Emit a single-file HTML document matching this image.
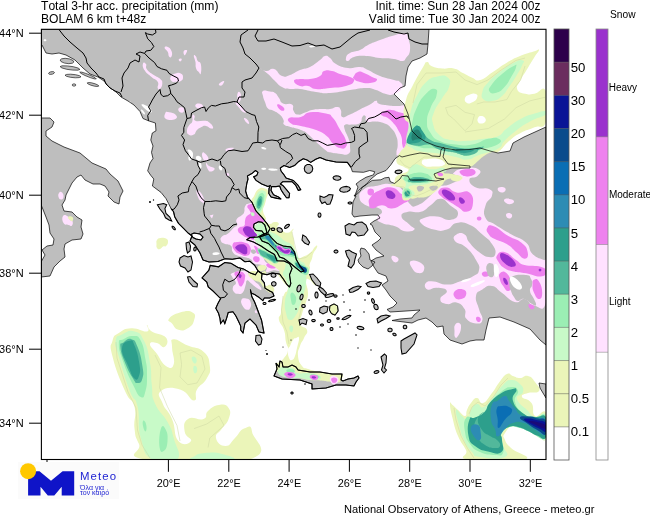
<!DOCTYPE html><html><head><meta charset="utf-8"><title>Meteo precipitation map</title>
<style>html,body{margin:0;padding:0;background:#fff}body{width:650px;height:516px;overflow:hidden}svg{display:block;will-change:transform}text{font-family:"Liberation Sans",sans-serif;fill:#000;font-kerning:none}</style></head><body>
<svg width="650" height="516" viewBox="0 0 650 516">
<rect width="650" height="516" fill="#fff"/>
<defs><clipPath id="mapclip"><rect x="41" y="29" width="505" height="431"/></clipPath></defs>
<g clip-path="url(#mapclip)">
<path d="M41,29 L429,29 L428,44 L427,54 L420,58 L412,61 L408,67 L406,76 L405,86 L400,88 L394,94 L398,98 L404,104 L408,114 L410,122 L412,131 L418,137 L426,142 L436,146 L444,148 L456,150 L470,149.5 L480,148 L490,151 L498,153 L510,151 L513,143 L524,137 L535,132 L546,127 L546,345 L540,340 L530,329 L514,322 L500,317 L489,318 L486,330 L484,340 L476,340 L470,341 L462,344 L450,340 L444,334 L443,326 L437,327 L432,322 L426,318 L418,320 L412,323 L404,322 L392,320.5 L400,319 L412,318 L414,315 L420,310 L406,311 L390,312 L387,309.5 L393,307 L397,303 L390,296 L386,290 L382,285 L388,281 L386,276 L378,273 L374,267 L371,261 L376,258 L384,256 L376,250 L372,245 L378,241 L381,238 L375,232 L372,225 L370,224 L374,221 L380,218 L378,215 L372,215 L360,216 L354,217 L352,214 L353,202 L356,196 L354,196 L355.5,194 L358,187 L356,184 L359.8,181 L366,177.3 L373.5,174.8 L374.7,171.7 L369.7,170.5 L363.5,172.3 L352.4,171.7 L351,167.4 L347.4,162.4 L336,162 L326,160 L320,157.5 L315.7,159.3 L310.7,162.4 L307,160 L303.3,158.7 L298.3,161.8 L294.6,165.5 L289.6,167.4 L284,165.5 L280.3,168 L281,171 L284,174.8 L286,178 L289,179 L293.3,180.4 L297.7,184.8 L300.8,189.7 L298.3,190.4 L295.8,185.4 L292,181.7 L286.5,181.7 L282.8,181.7 L280.3,184 L282.8,185.4 L286.5,189.7 L289.6,193.5 L289,197.8 L286.5,197.8 L283.4,193.5 L281,189.7 L279.7,186 L276,186.6 L271.6,186.6 L271,190.4 L273.5,194.7 L278.5,197 L281,199 L277,198.4 L271,197 L268.8,193.5 L269,188.5 L270.4,185.4 L268,186.6 L261.7,184 L256,180.4 L253.6,176.7 L256.7,175.5 L258,172.4 L255.5,170.5 L251.8,173.6 L247.4,176 L248,179 L246.8,183.5 L245.6,191 L247.4,197 L251.8,202 L256,211 L262,217.4 L267,223.6 L270,228.5 L268,232.5 L263,234.5 L258,237 L250,237.5 L246.7,239.7 L253.5,242 L261,246 L268.4,251 L274.6,254.6 L277,260.8 L284,261 L289.5,263.6 L292,268.6 L289.5,274.8 L290.8,283.5 L289.5,287 L287,284.7 L283.3,279 L279.6,274 L272,273 L267,274.8 L262,273.6 L258,271 L254.8,265.5 L249.8,261.2 L244.9,261.8 L239.9,258 L232.4,259.3 L225,258.7 L218,261.5 L209,262 L203,260 L200,253 L195,245 L190,241 L192,236 L188.4,233.3 L183.5,228.4 L178.5,223.4 L174.8,217 L173.5,211.6 L171,208.5 L168.6,203.6 L166,198.6 L161,192.4 L152.4,186 L153.8,179 L150.8,175.4 L147.7,170.8 L150,163 L153,158.5 L151.5,152.3 L153,146 L150.8,140 L152.3,133 L156,130.8 L155.4,123 L148.5,120.8 L143,118.5 L140,111.5 L134,105 L128,101 L121,97 L116,92 L109,87 L104,81 L98,77 L90,74 L83,68 L75,60 L66,55 L59,53 L52,54 L46,53 L42,45 L41,45Z" fill="#bebebe" stroke="none" stroke-width="0" />
<path d="M41,118 L50,118 L54,122 L52,127 L46,131 L46,136 L52,141 L64,147 L80,153 L92,163 L106,169 L110,174 L118,181 L123,191 L120,197 L119,204 L114,202 L108,196 L109,192 L105,186 L100,184 L93,184 L85,180 L81,175 L77,177 L72,183 L66,195 L65,200 L62,205 L64,211 L72,212 L77,217 L82,220 L81,227 L83,234 L81,239 L72,240 L65,244 L64,249 L65,257 L60,261 L54,267 L50,276 L41,277 L41,262 L45,255 L42,250 L47,246 L53,245 L54,239 L50,233 L49,225 L46,217 L42,207 L41,205Z" fill="#bebebe" stroke="none" stroke-width="0" />
<path d="M361,248 L365,249 L369,254 L370,260 L375,262 L372,266 L368,269 L363,267 L359,263 L358,260 L361,256 L360,251Z" fill="#bebebe" stroke="none" stroke-width="0" />
<path d="M210.2,265.4 L218.5,266.8 L224.8,262.5 L231,263.3 L238,267.5 L243.5,268.9 L250.4,273 L255.4,274.8 L258,271 L262,273.6 L261.5,279.2 L264.3,282.7 L265,288.2 L269.7,291 L272.6,292.4 L274,296 L269.7,298 L264.3,298 L262.9,300.7 L258.7,297.2 L254.6,294.5 L251.1,293 L250.4,289.6 L251.8,296.6 L254.6,302 L257.3,309 L259.4,314.6 L261.5,320 L264,333 L259,332 L256,325 L250,319 L245,323 L243,333 L240.7,330 L240.7,326 L238.6,321.5 L235.9,316 L233,311.8 L228.2,312.5 L226.9,317.3 L224.8,323.6 L223.4,320 L220.6,323.6 L220,318.7 L218.5,313.2 L215.8,308.3 L217.9,303.5 L220.6,298.6 L217.9,295.9 L213,291 L208.2,286.9 L206.8,282 L202,277.9 L208.9,270.2Z" fill="#bebebe" stroke="none" stroke-width="0" />
<path d="M276,363 L277,369 L274,376 L282,379 L300,380 L312,384 L312,389 L326,388 L336,385 L346,385 L354,386 L356,382 L359,378 L358,376 L354,378 L348,379 L343,381 L341,380 L342,374 L332,374 L320,372 L310,372 L298,370 L296,367 L292,365 L288,367 L283,367 L282,362 L280,361 L279,367Z" fill="#bebebe" stroke="none" stroke-width="0" />
<path d="M259.7,237 L268.4,234 L272,238.5 L277,243.4 L283.3,246 L290.8,247 L294.5,252 L296.3,259.6 L300,266 L304,271 L301,272 L296,268 L290,263 L284,258.5 L279.6,257 L277,252 L274.6,249.6 L268.4,243.4 L262,241Z" fill="#bebebe" stroke="none" stroke-width="0" />
<path d="M539,383 L546,384 L546,398 L543,393 L540,388Z" fill="#bebebe" stroke="none" stroke-width="0" />
<path d="M355.5,194.5 L360.4,188.5 L366,184.7 L371,179 L377,174 L386,170.5 L390.8,164.9 L395,158.7 L399.5,155.6 L402,157 L410,155 L420,153 L428,154 L432,156 L440,156.5 L441,150 L443,147.5 L445,148.5 L443,157 L448,164 L470,166 L470,168 L452,168 L444,170 L434,174 L436,178 L444,179 L436,181 L426,180 L410,180 L408,176 L402,175.5 L400,179 L394.6,183.5 L390.2,181.6 L389,177.3 L384.6,177.9 L380.9,179.8 L372.2,180.4 L368.5,182.9 L362.3,187.2 L359.8,191.6 L354.9,196Z" fill="#ffffff" stroke="none" stroke-width="0" />
<path d="M258.5,221.7 L254,224 L253.5,227.3 L256,230.4 L262,231 L264,234 L267,233 L266,229 L264.7,224.8 L262,222.3Z" fill="#ffffff" stroke="none" stroke-width="0" />
<path d="M191,234.5 L194,233 L200,234 L203,237 L201,240 L196,239 L193,237.5Z" fill="#ffffff" stroke="none" stroke-width="0" />
<path d="M346.0,58.0C346.5,55.9 346.3,55.1 350.0,53.0C353.7,50.9 355.2,52.1 360.0,50.0C364.8,47.9 362.7,47.7 368.0,45.0C373.3,42.3 373.6,42.4 380.0,40.0C386.4,37.6 385.6,37.9 392.0,36.0C398.4,34.1 399.7,32.5 404.0,33.0C408.3,33.5 406.4,33.5 408.0,38.0C409.6,42.5 410.5,44.7 410.0,50.0C409.5,55.3 408.1,55.1 406.0,58.0C403.9,60.9 405.2,60.7 402.0,61.0C398.8,61.3 399.9,59.8 394.0,59.0C388.1,58.2 387.5,58.8 380.0,58.0C372.5,57.2 372.9,56.3 366.0,56.0C359.1,55.7 358.8,55.7 354.0,57.0C349.2,58.3 350.1,60.7 348.0,61.0C345.9,61.3 345.5,60.1 346.0,58.0Z" fill="#ffe1ff" />
<path d="M259.0,67.0C258.5,66.2 262.0,70.5 266.0,71.0C270.0,71.5 269.7,67.7 274.0,69.0C278.3,70.3 277.7,74.4 282.0,76.0C286.3,77.6 285.2,76.6 290.0,75.0C294.8,73.4 294.7,72.1 300.0,70.0C305.3,67.9 304.7,69.7 310.0,67.0C315.3,64.3 316.0,62.9 320.0,60.0C324.0,57.1 322.3,56.5 325.0,56.0C327.7,55.5 327.1,55.9 330.0,58.0C332.9,60.1 331.2,61.3 336.0,64.0C340.8,66.7 341.6,67.2 348.0,68.0C354.4,68.8 354.7,66.5 360.0,67.0C365.3,67.5 362.7,67.6 368.0,70.0C373.3,72.4 373.1,73.3 380.0,76.0C386.9,78.7 388.7,78.4 394.0,80.0C399.3,81.6 397.9,79.9 400.0,82.0C402.1,84.1 403.6,84.8 402.0,88.0C400.4,91.2 398.3,92.4 394.0,94.0C389.7,95.6 390.8,95.1 386.0,94.0C381.2,92.9 381.3,91.6 376.0,90.0C370.7,88.4 372.9,88.0 366.0,88.0C359.1,88.0 359.6,88.7 350.0,90.0C340.4,91.3 339.1,92.5 330.0,93.0C320.9,93.5 324.0,93.1 316.0,92.0C308.0,90.9 306.9,89.8 300.0,89.0C293.1,88.2 294.8,89.5 290.0,89.0C285.2,88.5 286.3,89.4 282.0,87.0C277.7,84.6 277.7,83.5 274.0,80.0C270.3,76.5 272.0,77.5 268.0,74.0C264.0,70.5 259.5,67.8 259.0,67.0Z" fill="#ffe1ff" />
<path d="M294.0,81.0C294.0,79.1 295.7,79.5 300.0,79.0C304.3,78.5 304.7,79.8 310.0,79.0C315.3,78.2 316.3,78.1 320.0,76.0C323.7,73.9 320.8,72.3 324.0,71.0C327.2,69.7 327.7,70.2 332.0,71.0C336.3,71.8 335.2,72.4 340.0,74.0C344.8,75.6 346.3,75.1 350.0,77.0C353.7,78.9 355.1,78.6 354.0,81.0C352.9,83.4 352.4,84.1 346.0,86.0C339.6,87.9 338.0,87.2 330.0,88.0C322.0,88.8 321.9,89.5 316.0,89.0C310.1,88.5 312.3,86.8 308.0,86.0C303.7,85.2 303.7,87.3 300.0,86.0C296.3,84.7 294.0,82.9 294.0,81.0Z" fill="#ee82ee" />
<path d="M354.0,76.0C355.1,74.1 355.3,72.8 358.0,72.0C360.7,71.2 360.3,71.7 364.0,73.0C367.7,74.3 368.5,75.1 372.0,77.0C375.5,78.9 377.5,78.4 377.0,80.0C376.5,81.6 374.5,82.5 370.0,83.0C365.5,83.5 364.3,83.1 360.0,82.0C355.7,80.9 355.6,80.6 354.0,79.0C352.4,77.4 352.9,77.9 354.0,76.0Z" fill="#ee82ee" />
<path d="M263.0,91.0C264.9,89.8 266.8,91.0 270.0,91.5C273.2,92.0 272.6,91.3 275.0,93.0C277.4,94.7 276.9,95.2 279.0,98.0C281.1,100.8 279.5,101.7 283.0,103.5C286.5,105.3 289.2,102.7 292.0,104.6C294.8,106.5 291.9,108.1 293.5,110.8C295.1,113.5 294.7,114.2 298.0,114.6C301.3,115.0 302.1,113.5 305.8,112.3C309.5,111.1 307.9,110.9 312.0,110.0C316.1,109.1 316.2,109.3 321.0,109.0C325.8,108.7 325.7,109.5 330.0,109.0C334.3,108.5 334.1,106.7 337.0,107.0C339.9,107.3 339.4,107.3 340.8,110.0C342.2,112.7 339.8,115.8 342.3,117.0C344.8,118.2 345.1,116.7 350.0,114.6C354.9,112.5 355.5,111.7 360.8,109.0C366.1,106.3 365.9,106.8 370.0,104.6C374.1,102.4 373.6,101.0 376.0,100.8C378.4,100.6 375.7,102.6 379.0,103.8C382.3,105.0 383.5,104.8 388.5,105.4C393.5,106.0 394.0,106.0 397.7,106.0C401.4,106.0 400.6,105.4 402.3,105.4C404.0,105.4 402.3,103.8 404.0,106.0C405.7,108.2 406.9,109.7 408.5,113.8C410.1,117.9 409.6,117.8 410.0,121.5C410.4,125.2 410.3,124.0 410.0,127.7C409.7,131.4 409.8,132.1 409.0,135.4C408.2,138.7 408.0,137.2 407.0,140.0C406.0,142.8 406.7,143.1 405.4,146.0C404.1,148.9 404.4,148.3 402.3,150.8C400.2,153.3 399.2,155.0 397.7,155.4C396.2,155.8 396.5,155.2 396.5,152.3C396.5,149.4 397.8,149.1 397.7,144.6C397.6,140.1 397.7,139.7 396.0,135.4C394.3,131.1 394.3,131.6 391.5,128.5C388.7,125.4 389.5,125.7 385.4,123.8C381.3,121.9 380.9,122.1 376.0,121.5C371.1,120.9 369.8,123.0 367.0,121.5C364.2,120.0 366.7,117.2 365.4,116.0C364.1,114.8 363.7,115.1 362.3,117.0C360.9,118.9 362.9,121.0 360.0,123.0C357.1,125.0 355.4,124.2 351.5,124.6C347.6,125.0 347.2,123.4 345.4,124.6C343.6,125.8 343.8,125.3 344.6,129.0C345.4,132.7 347.1,134.0 348.5,138.5C349.9,143.0 350.0,141.9 350.0,146.0C350.0,150.1 351.4,151.7 348.5,153.8C345.6,155.9 343.9,154.2 339.0,153.8C334.1,153.4 333.5,153.2 330.0,152.3C326.5,151.4 328.9,152.5 326.0,150.4C323.1,148.3 323.9,149.0 319.0,144.6C314.1,140.2 312.0,137.7 307.7,134.0C303.4,130.3 305.7,132.3 302.7,130.8C299.7,129.3 299.8,129.5 296.5,128.5C293.2,127.5 293.7,128.0 290.4,127.0C287.1,126.0 285.8,126.5 284.0,124.6C282.2,122.7 284.7,122.7 283.5,120.0C282.3,117.3 282.3,117.1 279.6,114.6C276.9,112.1 276.6,112.4 273.5,110.8C270.4,109.2 270.3,110.8 268.0,108.5C265.7,106.2 266.3,105.3 265.0,102.0C263.7,98.7 263.5,98.9 263.0,96.0C262.5,93.1 261.1,92.2 263.0,91.0Z" fill="#ffe1ff" />
<path d="M289.0,118.0C291.5,116.2 295.2,118.5 300.8,117.0C306.4,115.5 303.3,113.2 310.0,112.3C316.7,111.4 319.9,112.0 326.0,113.5C332.1,115.0 329.3,113.7 333.0,118.0C336.7,122.3 336.6,123.7 340.0,129.6C343.4,135.5 344.3,135.4 345.8,140.0C347.3,144.6 347.3,144.9 345.8,147.0C344.3,149.1 343.4,148.9 340.0,148.0C336.6,147.1 336.7,146.9 333.0,143.5C329.3,140.1 330.9,139.1 326.0,135.4C321.1,131.7 321.3,132.1 314.6,129.6C307.9,127.1 307.0,127.5 300.8,126.0C294.6,124.5 294.6,125.9 291.5,123.8C288.4,121.7 286.5,119.8 289.0,118.0Z" fill="#ee82ee" />
<path d="M277.3,104.6C277.9,103.8 279.2,104.4 281.0,105.4C282.8,106.4 283.7,107.1 284.2,108.5C284.7,109.9 284.1,110.8 282.7,110.8C281.3,110.8 280.2,110.2 278.8,108.5C277.4,106.8 276.7,105.4 277.3,104.6Z" fill="#ee82ee" />
<path d="M380.8,113.8C381.4,112.4 382.5,111.8 385.4,110.8C388.3,109.8 387.9,109.6 391.5,110.0C395.1,110.4 395.3,111.1 399.0,112.3C402.7,113.5 403.1,112.5 405.4,114.6C407.7,116.7 406.7,115.7 407.7,120.0C408.7,124.3 408.8,126.3 409.0,130.8C409.2,135.3 409.3,133.7 408.5,137.0C407.7,140.3 407.3,140.1 406.0,143.0C404.7,145.9 404.8,147.3 403.8,147.7C402.8,148.1 402.9,147.5 402.3,144.6C401.7,141.7 402.5,140.7 401.5,137.0C400.5,133.3 400.3,134.1 398.5,130.8C396.7,127.5 397.3,127.9 394.6,124.6C391.9,121.3 391.6,120.8 388.5,118.5C385.4,116.2 385.1,117.3 383.0,116.0C380.9,114.7 380.2,115.2 380.8,113.8Z" fill="#ee82ee" />
<path d="M359.4,197.2C359.0,192.9 360.0,192.0 364.3,189.0C368.6,186.0 368.3,187.3 375.6,186.0C382.9,184.7 384.0,182.6 391.8,184.3C399.6,186.0 400.0,187.2 404.7,192.4C409.4,197.6 406.1,200.3 409.6,203.7C413.1,207.1 412.1,207.5 417.7,205.3C423.3,203.1 425.5,200.3 430.6,195.6C435.7,190.9 431.8,190.5 437.0,187.5C442.2,184.5 443.9,186.9 450.0,184.3C456.1,181.7 458.8,180.8 459.7,177.8C460.6,174.8 451.6,175.6 453.3,173.0C455.0,170.4 459.3,168.9 466.2,168.0C473.1,167.1 476.0,167.6 479.0,169.7C482.0,171.8 480.1,173.4 477.5,176.0C474.9,178.6 469.8,176.3 469.4,179.4C469.0,182.5 470.8,184.9 476.0,187.5C481.2,190.1 484.7,186.8 489.0,189.0C493.3,191.2 492.9,191.3 492.0,195.6C491.1,199.9 487.3,199.3 485.6,205.3C483.9,211.3 483.0,212.8 485.6,218.0C488.2,223.2 488.4,220.3 495.3,224.7C502.2,229.1 503.3,229.7 511.5,234.4C519.7,239.1 520.4,237.3 526.0,242.5C531.6,247.7 527.7,249.2 532.5,253.9C537.3,258.6 540.4,258.4 544.0,260.0C547.6,261.6 545.5,248.8 546.0,260.0C546.5,271.2 549.2,289.8 546.0,302.0C542.8,314.2 539.7,306.4 534.0,305.6C528.3,304.8 529.6,300.0 524.5,299.0C519.4,298.0 520.9,303.7 514.8,302.0C508.7,300.3 507.9,297.0 501.8,292.7C495.7,288.4 497.2,286.9 492.0,286.0C486.8,285.1 486.7,286.7 482.4,289.4C478.1,292.1 476.9,290.8 476.0,296.0C475.1,301.2 477.3,302.6 479.0,309.0C480.7,315.4 483.2,316.2 482.4,320.0C481.6,323.8 480.3,323.8 476.0,323.4C471.7,323.0 469.2,322.4 466.2,318.6C463.2,314.8 467.2,313.3 464.6,309.0C462.0,304.7 461.2,303.7 456.5,302.4C451.8,301.1 451.1,304.9 446.8,304.0C442.5,303.1 440.3,302.5 440.3,299.0C440.3,295.5 447.7,294.0 446.8,291.0C445.9,288.0 442.2,288.2 437.0,287.8C431.8,287.4 430.4,290.7 427.4,289.4C424.4,288.1 424.1,285.1 425.8,283.0C427.5,280.9 428.3,281.0 433.9,281.4C439.5,281.8 439.9,284.6 446.8,284.6C453.7,284.6 452.8,283.6 459.7,281.4C466.6,279.2 467.6,279.5 472.7,276.5C477.8,273.5 478.1,274.4 479.0,270.0C479.9,265.6 479.4,266.0 476.0,260.0C472.6,254.0 471.8,252.5 466.2,247.4C460.6,242.3 457.5,244.4 454.9,240.9C452.3,237.4 453.9,236.1 456.5,234.4C459.1,232.7 461.2,232.2 464.6,234.4C468.0,236.6 465.6,237.8 469.4,242.5C473.2,247.2 473.8,248.1 479.0,252.0C484.2,255.9 484.6,256.5 488.9,257.0C493.2,257.5 494.5,257.4 495.3,253.9C496.1,250.4 495.4,249.2 492.0,244.0C488.6,238.8 488.4,239.5 482.4,234.4C476.4,229.3 476.3,227.7 469.4,224.7C462.5,221.7 462.5,221.7 456.5,223.0C450.5,224.3 452.8,227.8 446.8,229.6C440.8,231.4 440.8,231.4 433.9,229.6C427.0,227.8 423.5,226.1 420.9,223.0C418.3,219.9 419.7,219.7 424.0,218.0C428.3,216.3 430.1,216.1 437.0,216.6C443.9,217.1 444.4,220.8 450.0,219.9C455.6,219.0 458.0,217.3 458.0,213.4C458.0,209.5 454.7,209.2 450.0,205.3C445.3,201.4 445.5,198.8 440.3,198.8C435.1,198.8 435.8,201.8 430.6,205.3C425.4,208.8 426.9,210.1 420.9,211.8C414.9,213.5 413.2,210.5 408.0,211.8C402.8,213.1 401.1,213.2 401.5,216.6C401.9,220.0 406.2,221.2 409.6,224.7C413.0,228.2 415.7,227.9 414.4,229.6C413.1,231.3 409.9,232.1 404.7,231.2C399.5,230.3 401.1,228.5 395.0,226.3C388.9,224.1 386.7,225.2 382.0,223.0C377.3,220.8 377.2,221.0 377.2,218.0C377.2,215.0 382.4,214.7 382.0,211.8C381.6,208.9 379.9,208.7 375.6,207.0C371.3,205.3 370.2,207.9 365.9,205.3C361.6,202.7 359.8,201.5 359.4,197.2Z" fill="#ffe1ff" />
<path d="M411.0,261.0C413.4,259.7 417.5,260.6 421.0,263.0C424.5,265.4 424.8,267.3 424.0,270.0C423.2,272.7 421.2,273.5 418.0,273.0C414.8,272.5 413.9,271.2 412.0,268.0C410.1,264.8 408.6,262.3 411.0,261.0Z" fill="#ffe1ff" />
<path d="M392.0,256.0C393.3,255.2 396.7,256.4 398.0,258.0C399.3,259.6 398.3,261.2 397.0,262.0C395.7,262.8 394.3,262.6 393.0,261.0C391.7,259.4 390.7,256.8 392.0,256.0Z" fill="#ffe1ff" />
<path d="M498.6,187.5C500.2,186.6 503.6,186.8 505.0,188.0C506.4,189.2 505.6,191.1 504.0,192.0C502.4,192.9 500.4,192.7 499.0,191.5C497.6,190.3 497.0,188.4 498.6,187.5Z" fill="#ffe1ff" />
<path d="M505.0,199.0C506.9,198.2 511.1,198.7 513.0,200.0C514.9,201.3 513.9,202.9 512.0,203.7C510.1,204.5 507.9,204.3 506.0,203.0C504.1,201.7 503.1,199.8 505.0,199.0Z" fill="#ffe1ff" />
<path d="M506.7,213.4C507.9,212.5 510.4,212.8 511.5,214.0C512.6,215.2 512.2,217.1 511.0,218.0C509.8,218.9 508.1,218.7 507.0,217.5C505.9,216.3 505.5,214.3 506.7,213.4Z" fill="#ffe1ff" />
<path d="M370.7,197.0C373.3,193.5 373.2,193.2 378.8,190.7C384.4,188.2 385.7,186.6 391.8,187.5C397.9,188.4 396.8,191.0 401.5,194.0C406.2,197.0 409.2,196.2 409.6,198.8C410.0,201.4 407.7,201.1 403.0,203.7C398.3,206.3 397.4,208.1 391.8,208.5C386.2,208.9 387.2,205.3 382.0,205.3C376.8,205.3 375.9,208.9 372.4,208.5C368.9,208.1 369.5,206.8 369.0,203.7C368.5,200.6 368.1,200.5 370.7,197.0Z" fill="#ee82ee" />
<path d="M367.5,192.0C367.5,190.4 367.7,189.8 369.0,189.0C370.3,188.2 371.2,188.2 372.5,189.0C373.8,189.8 374.0,190.4 374.0,192.0C374.0,193.6 373.8,194.2 372.5,195.0C371.2,195.8 370.3,195.8 369.0,195.0C367.7,194.2 367.5,193.6 367.5,192.0Z" fill="#ee82ee" />
<path d="M438.7,190.7C440.0,188.2 442.1,187.0 446.8,187.5C451.5,188.0 450.5,191.1 456.5,192.4C462.5,193.7 465.1,189.0 469.4,192.4C473.7,195.8 473.6,200.1 472.7,205.3C471.8,210.5 470.1,211.3 466.2,211.8C462.3,212.3 462.3,209.6 458.0,207.0C453.7,204.4 454.3,204.7 450.0,202.0C445.7,199.3 445.0,200.0 442.0,197.0C439.0,194.0 437.4,193.2 438.7,190.7Z" fill="#ee82ee" />
<path d="M461.4,171.3C463.6,169.6 469.3,168.8 472.7,169.7C476.1,170.6 476.5,172.9 474.3,174.6C472.1,176.3 468.0,176.9 464.6,176.0C461.2,175.1 459.2,173.0 461.4,171.3Z" fill="#ee82ee" />
<path d="M487.2,228.0C488.5,225.8 488.1,224.2 493.7,226.3C499.3,228.4 501.0,231.7 508.3,236.0C515.6,240.3 516.0,238.2 521.2,242.5C526.4,246.8 526.8,247.9 527.7,252.2C528.6,256.5 527.5,258.7 524.5,258.7C521.5,258.7 521.1,256.1 516.4,252.2C511.7,248.3 512.3,247.4 506.7,244.0C501.1,240.6 500.0,241.9 495.3,239.3C490.6,236.7 491.1,237.4 488.9,234.4C486.7,231.4 485.9,230.2 487.2,228.0Z" fill="#ee82ee" />
<path d="M497.0,255.5C498.7,252.9 499.8,250.9 505.0,252.2C510.2,253.5 511.2,256.9 516.4,260.3C521.6,263.7 518.0,263.3 524.5,265.0C531.0,266.7 535.0,265.0 540.6,266.8C546.2,268.6 545.5,269.1 545.5,271.7C545.5,274.3 545.8,276.1 540.6,276.5C535.4,276.9 532.9,274.6 526.0,273.3C519.1,272.0 520.4,273.0 514.8,271.7C509.2,270.4 509.3,271.0 505.0,268.4C500.7,265.8 500.7,265.4 498.6,262.0C496.5,258.6 495.3,258.1 497.0,255.5Z" fill="#ee82ee" />
<path d="M500.0,273.3C501.8,271.6 503.6,270.3 506.7,273.3C509.8,276.3 511.1,279.9 511.5,284.6C511.9,289.3 510.5,290.6 508.3,291.0C506.1,291.4 505.6,289.2 503.4,286.2C501.2,283.2 500.9,283.1 500.0,279.7C499.1,276.3 498.2,275.0 500.0,273.3Z" fill="#ee82ee" />
<path d="M534.0,279.7C535.7,278.8 536.8,277.9 539.0,281.4C541.2,284.9 542.2,288.0 542.2,292.7C542.2,297.4 541.2,299.0 539.0,299.0C536.8,299.0 535.7,296.5 534.0,292.7C532.3,288.9 532.5,288.1 532.5,284.6C532.5,281.1 532.3,280.6 534.0,279.7Z" fill="#ee82ee" />
<path d="M454.9,291.0C457.1,288.8 460.0,288.5 463.0,289.4C466.0,290.3 466.6,291.7 466.2,294.3C465.8,296.9 464.4,298.1 461.4,299.0C458.4,299.9 456.6,299.6 454.9,297.5C453.2,295.4 452.7,293.2 454.9,291.0Z" fill="#ee82ee" />
<path d="M482.4,272.5C483.5,271.4 484.8,271.3 487.0,271.7C489.2,272.1 490.5,272.7 490.5,274.0C490.5,275.3 489.0,276.0 487.0,276.5C485.0,277.0 484.2,277.1 483.0,276.0C481.8,274.9 481.3,273.6 482.4,272.5Z" fill="#ee82ee" />
<path d="M476.0,318.0C476.3,316.7 477.7,316.5 479.0,317.0C480.3,317.5 481.1,318.7 480.8,320.0C480.5,321.3 479.3,322.5 478.0,322.0C476.7,321.5 475.7,319.3 476.0,318.0Z" fill="#ee82ee" />
<path d="M477.5,217.0C478.4,216.2 479.9,216.2 480.8,217.0C481.7,217.8 481.7,219.2 480.8,220.0C479.9,220.8 478.4,220.8 477.5,220.0C476.6,219.2 476.6,217.8 477.5,217.0Z" fill="#ee82ee" />
<path d="M529.0,304.0C530.2,303.5 532.9,304.7 534.0,306.0C535.1,307.3 534.2,308.5 533.0,309.0C531.8,309.5 530.6,309.3 529.5,308.0C528.4,306.7 527.8,304.5 529.0,304.0Z" fill="#ee82ee" />
<path d="M387.0,190.7C388.9,189.8 391.3,190.7 393.4,192.4C395.5,194.1 395.9,195.5 395.0,197.2C394.1,198.9 392.3,199.2 390.0,198.8C387.7,198.4 387.1,197.8 386.3,195.6C385.5,193.4 385.1,191.6 387.0,190.7Z" fill="#9a32cd" />
<path d="M442.0,190.7C442.9,189.0 445.0,189.0 448.4,190.7C451.8,192.4 454.0,194.6 454.9,197.2C455.8,199.8 454.3,200.5 451.7,200.5C449.1,200.5 447.8,199.8 445.2,197.2C442.6,194.6 441.1,192.4 442.0,190.7Z" fill="#9a32cd" />
<path d="M459.7,197.2C461.0,196.8 463.7,198.8 464.6,200.5C465.5,202.2 464.3,203.3 463.0,203.7C461.7,204.1 460.6,203.7 459.7,202.0C458.8,200.3 458.4,197.6 459.7,197.2Z" fill="#9a32cd" />
<path d="M500.0,255.5C500.0,252.9 501.1,252.2 505.0,253.9C508.9,255.6 512.7,258.6 514.8,262.0C516.9,265.4 515.6,266.4 513.0,266.8C510.4,267.2 508.5,266.6 505.0,263.6C501.5,260.6 500.0,258.1 500.0,255.5Z" fill="#9a32cd" />
<path d="M503.4,278.0C504.0,277.1 505.6,277.9 506.7,279.7C507.8,281.5 508.3,283.7 507.7,284.6C507.1,285.5 505.5,284.8 504.4,283.0C503.3,281.2 502.8,278.9 503.4,278.0Z" fill="#9a32cd" />
<path d="M539.0,269.0C539.5,268.5 540.5,268.5 541.0,269.0C541.5,269.5 541.5,270.5 541.0,271.0C540.5,271.5 539.5,271.5 539.0,271.0C538.5,270.5 538.5,269.5 539.0,269.0Z" fill="#9a32cd" />
<path d="M494.4,265.0C495.3,262.8 497.0,264.1 498.0,266.8C499.0,269.5 498.9,272.8 498.0,275.0C497.1,277.2 495.7,277.7 494.7,275.0C493.7,272.3 493.5,267.2 494.4,265.0Z" fill="#ffffff" />
<path d="M510.0,278.0C510.4,275.7 513.2,276.4 516.4,279.0C519.6,281.6 522.4,285.5 522.0,287.8C521.6,290.1 518.0,290.4 514.8,287.8C511.6,285.2 509.6,280.3 510.0,278.0Z" fill="#ffffff" />
<path d="M472.0,284.6C474.4,282.9 479.4,281.0 482.4,280.4C485.4,279.8 485.8,280.6 483.4,282.3C481.0,284.0 476.3,286.3 473.3,286.9C470.3,287.5 469.6,286.3 472.0,284.6Z" fill="#ffffff" />
<path d="M462.3,280.4C464.0,279.4 467.3,278.5 469.4,278.4C471.5,278.3 471.7,279.0 470.0,280.0C468.3,281.0 465.1,282.2 463.0,282.3C460.9,282.4 460.6,281.4 462.3,280.4Z" fill="#ffffff" />
<path d="M406.0,100.0C408.3,91.7 408.1,94.5 412.5,86.0C416.9,77.5 418.6,74.4 422.5,68.0C426.4,61.6 424.5,62.5 427.0,62.0C429.5,61.5 427.7,64.5 431.8,66.2C435.9,67.9 436.4,67.9 442.2,68.5C448.0,69.1 448.2,67.3 453.7,68.5C459.2,69.7 458.0,70.5 462.9,73.0C467.8,75.5 467.6,75.8 472.2,77.7C476.8,79.6 474.7,81.5 480.2,80.0C485.7,78.5 485.8,76.5 492.9,71.9C500.0,67.3 499.4,67.0 506.8,62.7C514.2,58.4 513.2,58.9 520.6,55.8C528.0,52.7 529.6,52.7 534.5,51.2C539.4,49.7 539.0,48.5 539.0,50.0C539.0,51.5 537.6,52.0 534.5,56.9C531.4,61.8 531.2,62.3 527.5,68.5C523.8,74.7 523.3,74.5 520.6,80.0C517.9,85.5 516.0,85.5 517.2,89.2C518.4,92.9 520.6,92.6 525.2,93.8C529.8,95.0 529.0,94.4 534.5,93.8C540.0,93.2 542.9,84.1 546.0,91.5C549.1,98.9 549.1,112.0 546.0,121.5C542.9,131.0 541.3,124.2 534.5,127.3C527.7,130.4 527.4,129.3 520.6,133.0C513.8,136.7 514.8,136.1 509.0,141.0C503.2,145.9 503.2,148.6 498.7,151.5C494.2,154.4 495.9,150.8 492.0,152.0C488.1,153.2 487.7,153.6 484.0,156.0C480.3,158.4 481.7,158.1 478.0,161.0C474.3,163.9 474.8,165.1 470.0,167.0C465.2,168.9 465.9,167.5 460.0,168.0C454.1,168.5 452.3,167.7 448.0,169.0C443.7,170.3 442.9,171.7 444.0,173.0C445.1,174.3 447.2,172.9 452.0,174.0C456.8,175.1 460.4,175.4 462.0,177.0C463.6,178.6 461.7,179.5 458.0,180.0C454.3,180.5 452.8,177.1 448.0,179.0C443.2,180.9 443.7,183.8 440.0,187.0C436.3,190.2 437.2,188.9 434.0,191.0C430.8,193.1 431.7,194.5 428.0,195.0C424.3,195.5 423.2,192.2 420.0,193.0C416.8,193.8 418.9,196.9 416.0,198.0C413.1,199.1 412.2,199.4 409.0,197.0C405.8,194.6 406.9,191.7 404.0,189.0C401.1,186.3 401.7,188.1 398.0,187.0C394.3,185.9 391.1,186.1 390.0,185.0C388.9,183.9 392.1,185.4 394.0,183.0C395.9,180.6 393.3,179.2 397.0,176.0C400.7,172.8 406.1,173.4 408.0,171.0C409.9,168.6 406.9,169.1 404.0,167.0C401.1,164.9 398.6,165.9 397.0,163.0C395.4,160.1 397.0,159.1 398.0,156.0C399.0,152.9 398.1,155.2 400.6,151.5C403.1,147.8 405.0,148.8 407.5,142.0C410.0,135.2 410.9,132.7 410.0,126.0C409.1,119.3 405.1,123.9 404.0,117.0C402.9,110.1 403.7,108.3 406.0,100.0Z" fill="#ebf5b9" />
<path d="M422.0,161.0C422.8,159.1 423.7,159.5 428.0,159.0C432.3,158.5 433.7,158.2 438.0,159.0C442.3,159.8 442.7,160.3 444.0,162.0C445.3,163.7 445.7,164.3 443.0,165.5C440.3,166.7 438.8,166.4 434.0,166.5C429.2,166.6 428.2,167.5 425.0,166.0C421.8,164.5 421.2,162.9 422.0,161.0Z" fill="#ffffff" />
<path d="M465.0,98.0C465.8,95.7 467.1,95.6 470.0,94.5C472.9,93.4 474.1,93.1 476.0,94.0C477.9,94.9 477.8,95.9 477.0,98.0C476.2,100.1 475.7,100.7 473.0,102.0C470.3,103.3 469.1,104.1 467.0,103.0C464.9,101.9 464.2,100.3 465.0,98.0Z" fill="#ffffff" />
<path d="M478.0,118.0C478.8,116.4 479.1,116.0 481.0,116.0C482.9,116.0 483.9,116.4 485.0,118.0C486.1,119.6 486.1,120.5 485.0,122.0C483.9,123.5 482.9,123.5 481.0,123.5C479.1,123.5 478.8,123.5 478.0,122.0C477.2,120.5 477.2,119.6 478.0,118.0Z" fill="#ffffff" />
<path d="M448.0,77.7C444.9,74.9 443.4,75.3 437.5,76.5C431.6,77.7 431.5,77.1 426.0,82.3C420.5,87.5 420.8,88.6 416.8,96.0C412.8,103.4 413.2,102.0 411.0,110.0C408.8,118.0 409.9,117.5 408.7,126.0C407.5,134.5 405.5,136.1 406.4,142.0C407.3,147.9 408.0,145.5 412.0,148.0C416.0,150.5 414.0,150.0 421.4,151.5C428.8,153.0 430.6,152.3 439.8,153.8C449.0,155.3 448.6,155.5 456.0,157.0C463.4,158.5 461.4,160.1 467.5,159.6C473.6,159.1 471.0,157.8 479.0,155.0C487.0,152.2 490.7,152.7 497.5,149.0C504.3,145.3 499.6,145.9 504.5,141.0C509.4,136.1 509.2,136.0 516.0,130.8C522.8,125.6 522.0,125.8 530.0,121.5C538.0,117.2 541.7,117.4 546.0,114.6C550.3,111.8 549.1,111.3 546.0,111.0C542.9,110.7 541.3,111.4 534.5,113.5C527.7,115.6 528.0,115.0 520.6,119.0C513.2,123.0 513.0,123.8 506.8,128.5C500.6,133.2 503.7,133.8 497.5,136.5C491.3,139.2 492.4,137.6 483.7,138.8C475.0,140.0 473.6,140.7 465.0,141.0C456.4,141.3 458.1,141.5 451.4,140.0C444.7,138.5 444.7,139.7 439.8,135.4C434.9,131.1 434.5,130.0 433.0,123.8C431.5,117.6 431.6,119.0 434.0,112.3C436.4,105.6 438.0,105.2 442.0,98.5C446.0,91.8 447.4,92.5 449.0,87.0C450.6,81.5 451.1,80.5 448.0,77.7Z" fill="#c8fac8" />
<path d="M435.0,89.0C432.2,88.4 430.9,88.8 426.0,93.8C421.1,98.8 420.5,99.7 416.8,107.7C413.1,115.7 413.9,115.2 412.0,123.8C410.1,132.4 407.9,133.8 409.8,140.0C411.7,146.2 411.6,144.6 419.0,147.0C426.4,149.4 427.6,147.5 437.5,149.0C447.4,150.5 448.0,150.8 456.0,152.7C464.0,154.6 461.4,156.6 467.5,156.0C473.6,155.4 471.0,153.4 479.0,150.4C487.0,147.4 492.2,147.7 497.5,144.6C502.8,141.5 501.2,140.3 498.7,138.8C496.2,137.3 495.4,137.3 488.3,138.8C481.2,140.3 480.6,143.1 472.0,144.6C463.4,146.1 464.6,145.6 456.0,144.6C447.4,143.6 446.6,144.1 439.8,141.0C433.0,137.9 434.0,138.2 430.6,133.0C427.2,127.8 427.0,128.2 427.0,121.5C427.0,114.8 428.1,114.5 430.6,107.7C433.1,100.9 435.2,101.0 436.4,96.0C437.6,91.0 437.8,89.6 435.0,89.0Z" fill="#9beeb4" />
<path d="M415.6,126.0C413.1,128.2 412.0,131.1 409.8,135.4C407.6,139.7 405.6,139.2 407.5,142.0C409.4,144.8 411.3,145.1 416.8,145.8C422.3,146.5 422.8,144.3 428.3,144.6C433.8,144.9 430.7,145.8 437.5,147.0C444.3,148.2 446.9,146.9 453.7,149.0C460.5,151.1 458.1,154.0 463.0,155.0C467.9,156.0 466.5,154.8 472.0,152.7C477.5,150.6 483.0,148.3 483.7,147.0C484.4,145.7 480.7,147.7 474.5,148.0C468.3,148.3 469.3,149.2 460.6,148.0C451.9,146.8 450.0,145.6 442.0,143.5C434.0,141.4 435.8,143.1 430.6,140.0C425.4,136.9 425.6,135.4 422.5,132.0C419.4,128.6 420.8,128.9 419.0,127.3C417.2,125.7 418.1,123.8 415.6,126.0Z" fill="#52b89b" />
<path d="M414.5,129.0C411.8,130.1 411.5,133.7 410.0,137.0C408.5,140.3 407.4,139.9 409.0,141.5C410.6,143.1 412.5,143.7 416.0,143.0C419.5,142.3 420.9,141.7 422.0,139.0C423.1,136.3 422.0,135.7 420.0,133.0C418.0,130.3 417.2,127.9 414.5,129.0Z" fill="#2d9f8c" />
<path d="M456.0,149.5C457.6,150.7 461.2,153.0 466.0,153.5C470.8,154.0 470.8,152.7 474.0,151.5C477.2,150.3 479.6,149.4 478.0,149.0C476.4,148.6 472.8,150.0 468.0,150.0C463.2,150.0 463.2,149.1 460.0,149.0C456.8,148.9 454.4,148.3 456.0,149.5Z" fill="#2d9f8c" />
<path d="M483.7,99.6C480.9,97.1 481.3,96.1 482.5,91.5C483.7,86.9 483.7,87.5 488.3,82.3C492.9,77.1 493.0,77.2 499.8,72.0C506.6,66.8 507.5,65.8 513.7,62.7C519.9,59.6 520.8,59.5 523.0,60.4C525.2,61.3 523.7,61.7 521.8,66.0C519.9,70.3 519.4,70.9 516.0,76.5C512.6,82.1 512.7,81.8 509.0,87.0C505.3,92.2 506.3,92.3 502.0,96.0C497.7,99.7 497.9,99.8 493.0,100.8C488.1,101.8 486.5,102.1 483.7,99.6Z" fill="#c8fac8" />
<path d="M489.5,91.5C488.3,89.3 488.5,89.3 491.8,84.6C495.1,79.9 496.2,79.0 502.0,74.0C507.8,69.0 510.0,67.8 513.7,66.0C517.4,64.2 516.6,64.5 516.0,67.3C515.4,70.1 514.5,71.2 511.4,76.5C508.3,81.8 508.5,82.7 504.5,87.0C500.5,91.3 500.4,91.5 496.4,92.7C492.4,93.9 490.7,93.7 489.5,91.5Z" fill="#9beeb4" />
<path d="M450.0,404.0C450.0,407.5 450.4,409.5 452.5,418.0C454.6,426.5 454.4,427.5 458.0,436.0C461.6,444.5 462.8,443.6 466.0,450.0C469.2,456.4 454.5,457.3 470.0,460.0C485.5,462.7 513.1,463.2 524.0,460.0C534.9,456.8 516.1,453.3 511.0,448.0C505.9,442.7 506.6,444.0 505.0,440.0C503.4,436.0 502.3,437.0 505.0,433.0C507.7,429.0 508.9,425.8 515.0,425.0C521.1,424.2 521.6,427.1 528.0,430.0C534.4,432.9 534.2,433.9 539.0,436.0C543.8,438.1 544.1,444.1 546.0,438.0C547.9,431.9 548.9,418.9 546.0,413.0C543.1,407.1 538.9,418.7 535.0,416.0C531.1,413.3 535.0,408.1 531.5,403.0C528.0,397.9 522.9,399.7 522.0,397.0C521.1,394.3 523.5,394.6 528.0,393.0C532.5,391.4 537.1,393.9 539.0,391.0C540.9,388.1 537.9,386.0 535.0,382.0C532.1,378.0 532.0,377.1 528.0,376.0C524.0,374.9 524.0,378.0 520.0,378.0C516.0,378.0 516.5,377.1 513.0,376.0C509.5,374.9 510.6,372.4 507.0,374.0C503.4,375.6 503.5,376.9 499.5,382.0C495.5,387.1 496.4,387.4 492.0,393.0C487.6,398.6 487.0,401.7 483.0,403.0C479.0,404.3 480.2,398.0 477.0,398.0C473.8,398.0 473.7,399.8 471.0,403.0C468.3,406.2 468.6,406.5 467.0,410.0C465.4,413.5 467.4,416.0 465.0,416.0C462.6,416.0 461.3,412.9 458.0,410.0C454.7,407.1 454.6,406.6 452.5,405.0C450.4,403.4 450.0,400.5 450.0,404.0Z" fill="#ebf5b9" />
<path d="M456.0,410.0C455.2,412.4 456.9,417.0 459.0,425.0C461.1,433.0 460.5,432.8 464.0,440.0C467.5,447.2 467.7,447.5 472.0,452.0C476.3,456.5 471.2,455.7 480.0,457.0C488.8,458.3 498.9,460.2 505.0,457.0C511.1,453.8 503.8,451.1 503.0,445.0C502.2,438.9 499.6,439.1 502.0,434.0C504.4,428.9 505.6,427.1 512.0,426.0C518.4,424.9 519.3,427.3 526.0,430.0C532.7,432.7 531.7,433.9 537.0,436.0C542.3,438.1 543.6,443.6 546.0,438.0C548.4,432.4 548.9,420.6 546.0,415.0C543.1,409.4 540.1,418.3 535.0,417.0C529.9,415.7 531.8,414.8 527.0,410.0C522.2,405.2 518.1,403.8 517.0,399.0C515.9,394.2 522.2,396.0 523.0,392.0C523.8,388.0 523.2,387.2 520.0,384.0C516.8,380.8 515.5,379.7 511.0,380.0C506.5,380.3 507.5,380.7 503.0,385.0C498.5,389.3 499.1,390.1 494.0,396.0C488.9,401.9 488.5,404.9 484.0,407.0C479.5,409.1 480.5,403.2 477.0,404.0C473.5,404.8 473.4,405.7 471.0,410.0C468.6,414.3 470.4,418.4 468.0,420.0C465.6,421.6 465.2,418.7 462.0,416.0C458.8,413.3 456.8,407.6 456.0,410.0Z" fill="#c8fac8" />
<path d="M466.0,418.0C463.3,421.8 463.9,425.1 465.0,432.0C466.1,438.9 466.0,438.7 470.0,444.0C474.0,449.3 473.3,449.1 480.0,452.0C486.7,454.9 488.9,454.7 495.0,455.0C501.1,455.3 501.1,457.0 503.0,453.0C504.9,449.0 502.3,445.3 502.0,440.0C501.7,434.7 499.9,436.5 502.0,433.0C504.1,429.5 505.2,428.3 510.0,427.0C514.8,425.7 514.7,426.7 520.0,428.0C525.3,429.3 523.1,429.3 530.0,432.0C536.9,434.7 541.7,442.1 546.0,438.0C550.3,433.9 548.9,422.1 546.0,416.5C543.1,410.9 540.9,417.7 535.0,417.0C529.1,416.3 529.3,418.0 524.0,414.0C518.7,410.0 516.6,408.1 515.0,402.0C513.4,395.9 519.1,395.0 518.0,391.0C516.9,387.0 515.5,386.7 511.0,387.0C506.5,387.3 506.6,387.8 501.0,392.0C495.4,396.2 494.4,397.3 490.0,402.6C485.6,407.9 488.5,408.0 484.5,412.0C480.5,416.0 479.9,416.0 475.0,417.6C470.1,419.2 468.7,414.2 466.0,418.0Z" fill="#9beeb4" />
<path d="M469.5,419.5C467.8,424.4 467.0,428.9 468.5,436.0C470.0,443.1 469.8,441.9 475.0,446.0C480.2,450.1 480.9,449.9 488.0,451.5C495.1,453.1 497.8,455.1 501.5,452.0C505.2,448.9 502.0,445.1 502.0,440.0C502.0,434.9 499.6,436.5 501.5,433.0C503.4,429.5 504.6,428.6 509.0,427.0C513.4,425.4 512.9,425.9 518.0,427.0C523.1,428.1 522.9,428.7 528.0,431.0C533.1,433.3 532.2,433.9 537.0,435.5C541.8,437.1 543.6,441.8 546.0,437.0C548.4,432.2 548.9,422.9 546.0,417.6C543.1,412.3 540.9,418.0 535.0,417.0C529.1,416.0 529.9,418.3 524.0,414.0C518.1,409.7 515.0,407.4 513.0,401.0C511.0,394.6 517.0,393.1 516.5,390.0C516.0,386.9 515.0,388.7 511.0,389.5C507.0,390.3 507.1,389.5 501.5,393.0C495.9,396.5 494.5,397.5 490.0,402.6C485.5,407.7 488.5,408.0 484.5,412.0C480.5,416.0 479.0,415.6 475.0,417.6C471.0,419.6 471.2,414.6 469.5,419.5Z" fill="#2d9f8c" />
<path d="M484.5,412.0C485.0,411.5 478.7,413.2 478.0,418.0C477.3,422.8 478.8,425.2 482.0,430.0C485.2,434.8 486.0,433.3 490.0,436.0C494.0,438.7 494.3,437.3 497.0,440.0C499.7,442.7 500.8,443.9 500.0,446.0C499.2,448.1 498.0,448.3 494.0,448.0C490.0,447.7 489.3,447.7 485.0,445.0C480.7,442.3 480.7,442.0 478.0,438.0C475.3,434.0 475.5,434.8 475.0,430.0C474.5,425.2 473.5,424.8 476.0,420.0C478.5,415.2 484.0,412.5 484.5,412.0Z" fill="#52b89b" />
<path d="M492.0,404.5C490.2,409.5 490.2,413.0 491.0,419.5C491.8,426.0 493.2,424.5 495.0,429.0C496.8,433.5 495.0,436.4 497.7,436.4C500.4,436.4 501.0,432.6 505.0,429.0C509.0,425.4 507.6,424.6 512.7,423.0C517.8,421.4 518.3,421.4 524.0,423.0C529.7,424.6 528.1,425.9 534.0,429.0C539.9,432.1 542.8,436.9 546.0,434.5C549.2,432.1 548.9,424.4 546.0,420.0C543.1,415.6 541.4,419.1 535.0,418.0C528.6,416.9 527.4,418.5 522.0,415.8C516.6,413.1 518.1,412.0 514.6,408.0C511.1,404.0 511.6,403.9 509.0,400.7C506.4,397.5 508.0,396.0 505.0,396.0C502.0,396.0 501.2,398.4 497.7,400.7C494.2,403.0 493.8,399.5 492.0,404.5Z" fill="#2d8cb4" />
<path d="M471.0,427.0C469.9,430.0 471.7,432.9 474.0,436.4C476.3,439.9 478.0,441.0 479.8,440.0C481.6,439.0 481.2,436.7 480.7,432.7C480.2,428.7 480.6,426.5 478.0,425.0C475.4,423.5 472.1,424.0 471.0,427.0Z" fill="#2d8cb4" />
<path d="M496.7,409.0C495.6,412.6 497.2,414.4 497.7,419.5C498.2,424.6 496.7,428.0 498.6,428.0C500.5,428.0 501.5,423.8 505.0,419.5C508.5,415.2 510.7,415.3 511.8,412.0C512.9,408.7 511.6,408.6 509.0,407.0C506.4,405.4 505.3,405.5 502.0,406.0C498.7,406.5 497.8,405.4 496.7,409.0Z" fill="#0a6eb4" />
<path d="M520.0,417.5C519.6,419.5 523.2,420.5 528.0,424.0C532.8,427.5 533.2,427.8 538.0,430.5C542.8,433.2 543.9,436.5 546.0,434.0C548.1,431.5 548.4,425.2 546.0,421.0C543.6,416.8 541.4,419.5 537.0,418.3C532.6,417.1 534.1,416.7 529.6,416.5C525.1,416.3 520.4,415.5 520.0,417.5Z" fill="#0a4b8c" />
<path d="M524.0,419.6C524.5,421.2 526.7,422.0 531.0,424.5C535.3,427.0 536.0,427.1 540.0,429.0C544.0,430.9 544.4,433.1 546.0,431.5C547.6,429.9 548.7,426.1 546.0,423.0C543.3,419.9 540.5,421.2 536.0,420.0C531.5,418.8 532.2,418.6 529.0,418.5C525.8,418.4 523.5,418.0 524.0,419.6Z" fill="#0a1496" />
<path d="M529.0,421.5C528.7,422.3 531.5,423.0 536.0,425.0C540.5,427.0 543.3,428.9 546.0,429.0C548.7,429.1 548.4,427.4 546.0,425.5C543.6,423.6 541.5,423.1 537.0,422.0C532.5,420.9 529.3,420.7 529.0,421.5Z" fill="#1a0a78" />
<path d="M112.5,340.8C110.8,347.1 109.2,343.1 112.5,356.5C115.8,369.9 119.1,377.6 125.0,391.0C130.9,404.4 132.0,396.7 134.5,406.7C137.0,416.7 133.3,418.7 134.5,428.6C135.7,438.5 135.2,435.6 139.0,444.0C142.8,452.4 119.7,455.7 148.6,460.0C177.5,464.3 219.9,467.5 247.5,460.0C275.1,452.5 252.9,440.2 252.0,431.8C251.1,423.4 248.5,426.9 244.0,428.6C239.5,430.3 239.9,433.4 235.0,438.0C230.1,442.6 230.6,446.0 225.5,446.0C220.4,446.0 216.9,442.6 216.0,438.0C215.1,433.4 218.6,433.7 222.0,428.6C225.4,423.5 226.8,424.5 228.6,419.0C230.4,413.5 231.2,411.7 228.6,408.0C226.0,404.3 224.5,404.2 219.0,405.0C213.5,405.8 212.1,407.3 208.0,411.0C203.9,414.7 208.8,416.9 203.5,419.0C198.2,421.1 193.0,415.6 188.0,419.0C183.0,422.4 183.9,425.9 184.7,431.8C185.5,437.7 192.7,438.5 191.0,441.0C189.3,443.5 183.5,446.9 178.4,441.0C173.3,435.1 176.2,429.0 172.0,419.0C167.8,409.0 165.6,411.0 162.7,403.5C159.8,396.0 156.4,394.8 161.0,391.0C165.6,387.2 171.2,386.9 180.0,389.4C188.8,391.9 189.5,400.4 194.0,400.4C198.5,400.4 193.6,395.3 197.0,389.4C200.4,383.5 203.3,384.7 206.7,378.4C210.1,372.1 210.7,373.0 209.8,365.9C208.9,358.8 209.4,357.2 203.5,351.8C197.6,346.4 195.7,348.9 187.8,345.5C179.9,342.1 177.9,338.8 173.7,339.2C169.5,339.6 172.0,340.3 172.0,347.0C172.0,353.7 175.3,359.3 173.7,364.3C172.1,369.3 170.5,368.8 165.9,365.9C161.3,363.0 160.7,359.1 156.5,353.3C152.3,347.5 149.9,346.7 150.0,344.0C150.1,341.3 153.2,342.2 157.0,343.0C160.8,343.8 161.9,348.4 164.3,347.0C166.7,345.6 169.2,341.8 165.9,337.6C162.6,333.4 156.8,334.8 151.8,331.4C146.8,328.0 148.3,325.0 147.0,325.0C145.7,325.0 151.2,330.5 147.0,331.4C142.8,332.3 138.9,327.8 131.4,328.2C123.9,328.6 123.8,329.6 118.8,333.0C113.8,336.4 114.2,334.5 112.5,340.8Z" fill="#ebf5b9" />
<path d="M169.0,318.8C171.1,315.9 173.7,314.2 180.0,312.5C186.3,310.8 188.8,310.4 192.5,312.5C196.2,314.6 195.3,316.2 194.0,320.4C192.7,324.6 192.0,325.7 187.8,328.2C183.6,330.7 182.6,331.1 178.4,329.8C174.2,328.5 174.5,326.4 172.0,323.5C169.5,320.6 166.9,321.7 169.0,318.8Z" fill="#ebf5b9" />
<path d="M115.7,340.8C114.8,346.7 115.0,343.1 118.8,356.5C122.6,369.9 124.8,377.6 129.8,391.0C134.8,404.4 134.7,394.2 137.6,406.7C140.5,419.2 136.7,423.8 140.8,438.0C144.9,452.2 143.4,454.1 153.0,460.0C162.6,465.9 171.4,465.9 176.9,460.0C182.4,454.1 176.2,448.1 173.7,438.0C171.2,427.9 172.5,431.2 167.5,422.0C162.5,412.8 159.2,413.4 155.0,403.5C150.8,393.6 153.1,395.6 151.8,384.7C150.5,373.8 152.1,374.4 150.0,362.7C147.9,351.0 148.1,349.1 144.0,340.8C139.9,332.5 140.4,333.1 134.5,331.4C128.6,329.7 127.0,332.0 122.0,334.5C117.0,337.0 116.6,334.9 115.7,340.8Z" fill="#c8fac8" />
<path d="M195.0,456.0C197.7,454.1 197.8,453.5 205.0,453.0C212.2,452.5 214.8,452.1 222.0,454.0C229.2,455.9 239.2,458.4 232.0,460.0C224.8,461.6 204.9,461.1 195.0,460.0C185.1,458.9 192.3,457.9 195.0,456.0Z" fill="#c8fac8" />
<path d="M118.8,344.0C118.8,350.3 119.7,351.8 123.5,362.7C127.3,373.6 128.4,375.6 133.0,384.7C137.6,393.8 137.5,395.3 140.8,397.0C144.1,398.7 143.8,396.9 145.5,391.0C147.2,385.1 147.0,383.4 147.0,375.0C147.0,366.6 147.2,368.7 145.5,359.6C143.8,350.5 144.1,347.1 140.8,340.8C137.5,334.5 137.6,336.4 133.0,336.0C128.4,335.6 127.3,337.1 123.5,339.2C119.7,341.3 118.8,337.7 118.8,344.0Z" fill="#9beeb4" />
<path d="M120.4,347.0C120.8,352.4 121.6,354.3 125.0,362.7C128.4,371.1 129.6,373.0 133.0,378.4C136.4,383.8 135.1,383.0 137.6,383.0C140.1,383.0 141.1,383.0 142.4,378.4C143.7,373.8 143.7,374.3 142.4,365.9C141.1,357.5 140.5,354.1 137.6,347.0C134.7,339.9 135.2,340.4 131.4,339.2C127.6,338.0 126.4,340.3 123.5,342.4C120.6,344.5 120.0,341.6 120.4,347.0Z" fill="#52b89b" />
<path d="M122.0,348.6C121.6,355.3 124.9,358.0 128.2,365.9C131.5,373.8 131.6,375.9 134.5,378.4C137.4,380.9 137.9,379.5 139.2,375.3C140.5,371.1 140.5,370.6 139.2,362.7C137.9,354.8 137.0,351.3 134.5,345.5C132.0,339.7 133.1,340.0 129.8,340.8C126.5,341.6 122.4,341.9 122.0,348.6Z" fill="#2d9f8c" />
<path d="M161.0,428.6C159.3,433.3 158.7,441.6 159.6,447.5C160.5,453.4 162.2,452.3 164.3,450.6C166.4,448.9 167.1,446.5 167.5,441.0C167.9,435.5 167.6,433.3 165.9,430.0C164.2,426.7 162.7,423.9 161.0,428.6Z" fill="#9beeb4" />
<path d="M143.0,421.0C143.7,419.9 145.2,421.3 146.0,424.0C146.8,426.7 146.7,429.9 146.0,431.0C145.3,432.1 144.3,430.7 143.5,428.0C142.7,425.3 142.3,422.1 143.0,421.0Z" fill="#9beeb4" />
<path d="M192.0,357.0C192.8,355.9 194.9,356.4 196.0,358.0C197.1,359.6 196.8,361.9 196.0,363.0C195.2,364.1 194.1,363.6 193.0,362.0C191.9,360.4 191.2,358.1 192.0,357.0Z" fill="#c8fac8" />
<path d="M194.0,366.0C194.9,365.2 196.5,366.1 197.0,368.0C197.5,369.9 196.9,372.2 196.0,373.0C195.1,373.8 194.0,372.9 193.5,371.0C193.0,369.1 193.1,366.8 194.0,366.0Z" fill="#c8fac8" />
<path d="M245.0,206.5C246.2,204.2 246.3,204.1 248.8,203.5C251.3,202.9 252.1,201.9 254.2,204.2C256.3,206.5 254.2,208.3 256.5,212.0C258.8,215.7 260.6,215.3 262.7,218.0C264.8,220.7 265.6,220.5 264.2,222.0C262.8,223.5 260.2,222.5 257.3,223.5C254.4,224.5 254.3,224.2 253.5,225.8C252.7,227.4 252.8,227.5 254.2,229.6C255.6,231.7 257.4,231.4 258.8,233.5C260.2,235.6 260.4,235.3 259.6,237.3C258.8,239.3 256.0,239.2 255.8,241.0C255.6,242.8 257.1,242.1 258.8,244.0C260.5,245.9 261.6,245.5 262.0,248.0C262.4,250.5 260.0,250.8 260.4,253.5C260.8,256.2 261.9,255.5 263.5,258.0C265.1,260.5 264.0,261.0 266.5,262.7C269.0,264.4 269.4,263.6 272.7,264.2C276.0,264.8 275.5,264.6 278.8,265.0C282.1,265.4 283.1,264.4 285.0,265.8C286.9,267.2 287.5,269.0 285.8,270.4C284.1,271.8 282.3,271.0 278.8,271.0C275.3,271.0 276.0,270.1 272.7,270.4C269.4,270.7 268.2,272.8 266.5,272.0C264.8,271.2 267.7,269.2 266.5,267.3C265.3,265.4 265.3,266.0 262.0,265.0C258.7,264.0 257.1,264.9 254.2,263.5C251.3,262.1 253.5,261.3 251.0,259.6C248.5,257.9 248.5,258.3 245.0,257.3C241.5,256.3 241.3,257.2 238.0,255.8C234.7,254.4 234.6,254.7 232.7,252.0C230.8,249.3 233.1,247.9 231.0,245.8C228.9,243.7 227.7,245.3 225.0,244.0C222.3,242.7 221.8,243.0 221.0,241.0C220.2,239.0 220.1,238.5 222.0,236.5C223.9,234.5 224.9,235.8 228.0,233.5C231.1,231.2 231.0,230.3 233.5,228.0C236.0,225.7 236.5,227.2 237.3,225.0C238.1,222.8 235.2,222.3 236.5,219.6C237.8,216.9 239.9,217.0 242.0,215.0C244.1,213.0 243.4,214.3 244.2,212.0C245.0,209.7 243.8,208.8 245.0,206.5Z" fill="#ffe1ff" />
<path d="M247.3,206.5C247.5,204.8 248.6,204.4 250.4,204.2C252.2,204.0 252.8,203.7 254.2,205.8C255.6,207.9 253.7,208.7 255.8,212.0C257.9,215.3 259.9,215.3 262.0,218.0C264.1,220.7 264.8,220.7 263.5,222.0C262.2,223.3 260.0,221.7 257.3,222.7C254.6,223.7 254.3,224.0 253.5,225.8C252.7,227.6 252.8,227.5 254.2,229.6C255.6,231.7 257.6,231.4 258.8,233.5C260.0,235.6 260.0,235.7 258.8,237.3C257.6,238.9 257.1,239.4 254.2,239.6C251.3,239.8 251.3,239.2 248.0,238.0C244.7,236.8 244.7,236.9 242.0,235.0C239.3,233.1 238.6,233.1 238.0,231.0C237.4,228.9 237.9,228.7 239.6,227.3C241.3,225.9 242.8,227.5 244.2,225.8C245.6,224.1 244.4,223.5 245.0,221.0C245.6,218.5 245.1,218.5 246.5,216.5C247.9,214.5 249.6,215.1 250.4,213.5C251.2,211.9 250.4,212.3 249.6,210.4C248.8,208.5 247.1,208.2 247.3,206.5Z" fill="#ee82ee" />
<path d="M232.7,244.2C233.5,241.8 234.7,242.4 238.0,242.0C241.3,241.6 241.9,241.7 245.0,242.7C248.1,243.7 248.2,243.3 249.6,245.8C251.0,248.3 251.2,249.3 250.4,252.0C249.6,254.7 249.2,255.2 246.5,255.8C243.8,256.4 243.5,255.5 240.4,254.2C237.3,252.9 237.1,253.7 235.0,251.0C232.9,248.3 231.9,246.6 232.7,244.2Z" fill="#ee82ee" />
<path d="M254.2,245.8C254.8,245.2 256.6,246.2 258.0,248.0C259.4,249.8 259.8,251.2 259.6,252.7C259.4,254.2 258.3,254.1 257.3,253.5C256.3,252.9 256.6,252.5 255.8,250.4C255.0,248.3 253.6,246.4 254.2,245.8Z" fill="#ee82ee" />
<path d="M253.5,257.3C254.3,256.1 255.7,256.1 257.3,256.5C258.9,256.9 259.4,257.3 259.6,258.8C259.8,260.3 259.4,261.4 258.0,262.0C256.6,262.6 255.4,262.3 254.2,261.0C253.0,259.7 252.7,258.5 253.5,257.3Z" fill="#ee82ee" />
<path d="M266.5,264.2C267.3,263.0 269.8,263.1 272.7,263.5C275.6,263.9 276.5,264.6 277.3,265.8C278.1,267.0 277.9,267.4 275.8,268.0C273.7,268.6 272.1,269.0 269.6,268.0C267.1,267.0 265.7,265.4 266.5,264.2Z" fill="#ee82ee" />
<path d="M278.8,265.0C280.3,264.2 282.3,264.8 284.2,265.8C286.1,266.8 286.4,267.6 285.8,268.8C285.2,270.0 283.9,270.4 282.0,270.4C280.1,270.4 279.4,270.2 278.5,268.8C277.6,267.4 277.3,265.8 278.8,265.0Z" fill="#ee82ee" />
<path d="M243.5,228.0C244.7,226.3 246.3,226.1 248.8,226.5C251.3,226.9 250.6,227.5 252.7,229.6C254.8,231.7 255.1,232.1 256.5,234.2C257.9,236.3 258.8,236.1 258.0,237.3C257.2,238.5 256.2,239.0 253.5,238.8C250.8,238.6 250.5,238.1 248.0,236.5C245.5,234.9 245.4,235.0 244.2,232.7C243.0,230.4 242.3,229.7 243.5,228.0Z" fill="#9a32cd" />
<path d="M235.8,246.5C237.0,245.1 238.3,244.4 241.0,244.2C243.7,244.0 244.1,244.1 245.8,245.8C247.5,247.5 247.3,248.2 247.3,250.4C247.3,252.6 247.5,253.6 245.8,254.2C244.1,254.8 243.5,253.9 241.0,252.7C238.5,251.5 237.9,251.3 236.5,249.6C235.1,247.9 234.6,247.9 235.8,246.5Z" fill="#9a32cd" />
<path d="M251.0,250.5C251.3,249.5 251.7,249.5 253.0,249.6C254.3,249.7 255.3,250.0 255.8,251.0C256.3,252.0 256.0,252.9 255.0,253.5C254.0,254.1 253.1,254.1 252.0,253.3C250.9,252.5 250.7,251.5 251.0,250.5Z" fill="#bebebe" />
<path d="M232.4,273.0C235.7,271.3 240.5,270.6 244.9,271.0C249.3,271.4 246.4,271.7 249.0,274.4C251.6,277.1 252.0,278.5 254.6,281.3C257.2,284.1 256.9,282.6 258.7,284.8C260.5,287.0 261.9,288.7 261.5,289.6C261.1,290.5 260.3,290.0 257.3,288.2C254.3,286.4 253.1,284.7 250.4,282.7C247.7,280.7 248.3,279.9 247.0,280.6C245.7,281.3 246.6,282.4 245.5,285.5C244.4,288.6 244.8,290.2 242.8,292.4C240.8,294.6 240.4,294.0 238.0,293.8C235.6,293.6 235.1,293.5 233.8,291.7C232.5,289.9 232.4,289.3 233.0,286.9C233.6,284.5 236.1,285.3 235.9,282.7C235.7,280.1 233.3,279.8 232.4,277.2C231.5,274.6 229.1,274.7 232.4,273.0Z" fill="#ffe1ff" />
<path d="M234.5,273.0C235.2,271.3 236.7,271.4 239.3,271.6C241.9,271.8 242.7,271.9 244.2,273.7C245.7,275.5 245.3,275.5 244.9,278.5C244.5,281.5 244.1,282.7 242.8,284.8C241.5,286.9 241.3,286.9 240.0,286.2C238.7,285.5 238.9,284.2 238.0,282.0C237.1,279.8 237.4,280.3 236.5,277.9C235.6,275.5 233.8,274.7 234.5,273.0Z" fill="#ee82ee" />
<path d="M238.6,274.4C239.2,273.8 240.8,274.1 241.4,275.0C242.0,275.9 241.3,277.3 240.7,277.9C240.1,278.5 239.6,278.1 239.0,277.2C238.4,276.3 238.0,275.0 238.6,274.4Z" fill="#9a32cd" />
<path d="M241.4,300.0C242.3,298.0 243.8,298.2 246.2,298.6C248.6,299.0 249.3,299.0 250.4,301.4C251.5,303.8 251.3,305.4 250.4,307.6C249.5,309.8 249.0,310.1 247.0,309.7C245.0,309.3 244.3,308.8 242.8,306.2C241.3,303.6 240.5,302.0 241.4,300.0Z" fill="#ffe1ff" />
<path d="M255.2,310.4C255.7,310.0 256.6,310.3 257.0,311.0C257.4,311.7 257.1,312.8 256.6,313.2C256.1,313.6 255.4,313.2 255.0,312.5C254.6,311.8 254.7,310.8 255.2,310.4Z" fill="#ffe1ff" />
<path d="M258.6,189.0C261.5,187.0 262.3,187.7 264.8,188.5C267.3,189.3 267.7,188.9 268.0,192.0C268.3,195.1 266.9,196.6 266.0,200.0C265.1,203.4 265.6,201.7 264.8,204.6C264.0,207.5 262.7,207.2 263.0,211.0C263.3,214.8 266.3,217.1 266.0,219.0C265.7,220.9 264.7,220.1 262.0,218.0C259.3,215.9 258.7,215.3 256.0,211.0C253.3,206.7 252.3,206.0 251.8,202.0C251.3,198.0 252.2,199.5 254.0,196.0C255.8,192.5 255.7,191.0 258.6,189.0Z" fill="#ebf5b9" />
<path d="M259.8,191.0C262.0,189.7 262.5,190.0 264.2,191.0C265.9,192.0 266.0,191.4 266.0,194.7C266.0,198.0 265.5,198.8 264.2,203.4C262.9,208.0 262.7,209.4 261.0,212.0C259.3,214.6 259.3,214.3 258.0,213.3C256.7,212.3 257.2,211.0 256.0,208.4C254.8,205.8 253.6,206.7 253.6,203.4C253.6,200.1 254.3,199.3 256.0,196.0C257.7,192.7 257.6,192.3 259.8,191.0Z" fill="#c8fac8" />
<path d="M260.5,193.5C262.2,192.3 262.6,192.7 263.6,194.0C264.6,195.3 264.5,195.2 264.2,198.4C263.9,201.6 263.5,202.6 262.3,205.9C261.1,209.2 261.1,209.8 259.8,210.8C258.5,211.8 258.5,211.3 257.4,209.6C256.3,207.9 255.5,207.6 255.5,204.6C255.5,201.6 256.1,201.4 257.4,198.4C258.7,195.4 258.8,194.7 260.5,193.5Z" fill="#9beeb4" />
<path d="M258.6,197.8C259.9,195.7 260.7,195.8 261.7,196.6C262.7,197.4 262.6,198.1 262.3,200.9C262.0,203.7 261.6,205.0 260.5,207.0C259.4,209.0 259.0,209.0 258.0,208.4C257.0,207.8 256.5,207.4 256.7,204.6C256.9,201.8 257.3,199.9 258.6,197.8Z" fill="#52b89b" />
<path d="M259.2,199.7C260.0,198.4 260.5,198.2 261.0,199.0C261.5,199.8 261.5,201.0 261.0,202.8C260.5,204.6 260.0,205.6 259.2,205.9C258.4,206.2 258.0,205.7 258.0,204.0C258.0,202.3 258.4,201.0 259.2,199.7Z" fill="#2d9f8c" />
<path d="M251.0,212.7C251.7,212.0 253.2,212.2 254.0,213.0C254.8,213.8 254.7,215.1 254.0,215.8C253.3,216.5 252.3,216.3 251.5,215.5C250.7,214.7 250.3,213.4 251.0,212.7Z" fill="#c8fac8" />
<path d="M264.2,222.0C267.9,221.8 266.9,224.2 269.6,224.2C272.3,224.2 271.7,222.2 274.2,222.0C276.7,221.8 278.0,222.1 278.8,223.5C279.6,224.9 276.4,225.5 277.3,227.3C278.2,229.1 279.1,229.0 282.0,230.4C284.9,231.8 284.9,233.2 288.0,232.7C291.1,232.2 292.4,228.8 293.5,228.7C294.6,228.6 292.2,229.8 292.2,232.4C292.2,235.0 292.8,234.6 293.5,238.6C294.2,242.6 293.7,242.3 294.7,247.3C295.7,252.3 294.6,255.0 297.2,257.3C299.8,259.6 301.0,257.3 304.6,256.0C308.2,254.7 308.1,254.6 310.8,252.3C313.5,250.0 312.9,249.1 314.6,247.3C316.3,245.5 316.5,245.2 317.0,245.5C317.5,245.8 317.4,246.5 316.4,248.6C315.4,250.7 314.5,250.9 313.3,253.5C312.1,256.1 313.0,255.5 312.0,258.5C311.0,261.5 310.1,262.2 309.6,264.7C309.1,267.2 310.2,265.3 310.0,268.0C309.8,270.7 307.7,272.3 309.0,275.0C310.3,277.7 312.6,276.1 315.0,278.0C317.4,279.9 318.0,280.1 318.0,282.0C318.0,283.9 317.1,285.5 315.0,285.0C312.9,284.5 312.4,281.1 310.0,280.0C307.6,278.9 306.5,277.5 306.0,281.0C305.5,284.5 308.0,287.4 308.0,293.0C308.0,298.6 307.6,296.4 306.0,302.0C304.4,307.6 303.6,308.1 302.0,314.0C300.4,319.9 298.7,319.7 300.0,324.0C301.3,328.3 305.9,326.3 307.0,330.0C308.1,333.7 305.9,333.7 304.0,338.0C302.1,342.3 301.6,341.2 300.0,346.0C298.4,350.8 297.5,350.7 298.0,356.0C298.5,361.3 299.3,362.5 302.0,366.0C304.7,369.5 303.2,367.4 308.0,369.0C312.8,370.6 313.6,370.7 320.0,372.0C326.4,373.3 326.1,373.5 332.0,374.0C337.9,374.5 339.6,372.4 342.0,374.0C344.4,375.6 342.1,377.7 341.0,380.0C339.9,382.3 341.2,382.2 338.0,382.6C334.8,383.0 333.8,382.2 329.0,381.6C324.2,381.0 325.1,380.8 320.0,380.4C314.9,380.0 315.9,380.6 310.0,380.0C304.1,379.4 304.9,378.9 298.0,378.0C291.1,377.1 289.3,378.0 284.0,376.5C278.7,375.0 280.0,375.0 278.0,372.5C276.0,370.0 277.0,369.5 276.5,367.0C276.0,364.5 275.6,364.1 276.0,363.0C276.4,361.9 275.9,364.3 278.0,363.0C280.1,361.7 281.3,361.5 284.0,358.0C286.7,354.5 287.5,354.3 288.0,350.0C288.5,345.7 287.1,347.3 286.0,342.0C284.9,336.7 285.9,335.9 284.0,330.0C282.1,324.1 279.9,324.3 279.0,320.0C278.1,315.7 280.1,317.3 280.8,313.8C281.5,310.3 281.0,310.8 281.5,307.0C282.0,303.2 281.9,303.2 282.7,299.6C283.5,296.0 283.5,295.7 284.6,293.4C285.7,291.1 286.2,292.7 287.0,291.0C287.8,289.3 288.3,289.0 287.7,287.0C287.1,285.0 286.4,285.8 284.6,283.5C282.8,281.2 282.5,280.8 280.8,278.5C279.1,276.2 278.6,276.6 278.3,274.8C278.0,273.0 280.2,273.5 279.6,271.7C279.0,269.9 278.0,269.7 276.0,268.0C274.0,266.3 273.7,266.5 272.0,265.5C270.3,264.5 271.1,265.4 269.6,264.2C268.1,263.0 268.5,263.2 266.5,261.0C264.5,258.8 263.6,258.8 262.0,255.8C260.4,252.8 261.3,252.7 260.4,249.6C259.5,246.5 260.0,246.3 258.8,244.0C257.6,241.7 257.0,242.6 255.8,241.0C254.6,239.4 253.8,239.6 254.2,238.0C254.6,236.4 257.3,237.0 257.3,235.0C257.3,233.0 254.6,233.1 254.2,230.4C253.8,227.7 253.1,227.2 255.8,225.0C258.5,222.8 260.5,222.2 264.2,222.0Z" fill="#ebf5b9" />
<path d="M248.6,273.0C249.9,271.8 250.2,271.2 253.5,271.0C256.8,270.8 258.0,272.3 261.0,272.3C264.0,272.3 263.4,270.7 264.7,271.0C266.0,271.3 266.7,272.4 266.0,273.6C265.3,274.8 263.5,273.7 262.2,275.4C260.9,277.1 260.7,277.6 261.0,279.8C261.3,282.0 262.2,281.8 263.5,283.5C264.8,285.2 264.3,285.7 266.0,286.0C267.7,286.3 267.7,284.4 269.7,284.7C271.7,285.0 272.3,285.5 273.4,287.2C274.5,288.9 274.6,289.5 274.0,291.0C273.4,292.5 272.8,292.8 271.0,292.8C269.2,292.8 269.2,292.5 267.2,291.0C265.2,289.5 265.5,289.5 263.5,287.2C261.5,284.9 261.7,284.0 259.7,282.3C257.7,280.6 258.1,282.0 256.0,281.0C253.9,280.0 253.7,280.0 251.7,278.5C249.7,277.0 249.4,276.9 248.6,275.4C247.8,273.9 247.3,274.2 248.6,273.0Z" fill="#ebf5b9" />
<path d="M258.5,266.0C260.2,264.8 262.7,264.8 264.7,265.5C266.7,266.2 266.7,267.1 266.0,268.6C265.3,270.1 264.2,270.7 262.2,271.0C260.2,271.3 259.5,271.2 258.5,269.9C257.5,268.6 256.8,267.2 258.5,266.0Z" fill="#ebf5b9" />
<path d="M288.0,350.0C288.3,346.8 288.7,348.7 290.0,346.0C291.3,343.3 291.4,342.1 293.0,340.0C294.6,337.9 294.4,338.5 296.0,338.0C297.6,337.5 298.7,335.3 299.0,338.0C299.3,340.7 298.1,343.2 297.0,348.0C295.9,352.8 296.3,352.8 295.0,356.0C293.7,359.2 293.6,359.5 292.0,360.0C290.4,360.5 290.1,360.7 289.0,358.0C287.9,355.3 287.7,353.2 288.0,350.0Z" fill="#ffffff" />
<path d="M255.8,225.0C257.9,222.9 259.1,222.7 262.0,222.7C264.9,222.7 264.5,222.9 266.5,225.0C268.5,227.1 266.7,227.7 269.6,230.4C272.5,233.1 273.2,232.2 277.3,235.0C281.4,237.8 281.3,238.5 285.0,241.0C288.7,243.5 288.3,241.7 291.0,244.2C293.7,246.7 293.5,247.1 295.0,250.4C296.5,253.7 295.1,253.7 296.5,256.5C297.9,259.3 298.1,258.9 300.4,261.0C302.7,263.1 303.5,261.3 305.0,264.2C306.5,267.1 305.7,267.0 306.0,272.0C306.3,277.0 306.5,277.4 306.0,283.0C305.5,288.6 305.6,287.1 304.0,293.0C302.4,298.9 302.1,299.1 300.0,305.0C297.9,310.9 298.7,311.0 296.0,315.0C293.3,319.0 292.7,320.5 290.0,320.0C287.3,319.5 287.3,318.1 286.0,313.0C284.7,307.9 284.5,307.4 285.0,301.0C285.5,294.6 287.7,294.6 288.0,289.0C288.3,283.4 287.3,284.0 286.0,280.0C284.7,276.0 283.3,277.2 283.0,274.0C282.7,270.8 284.5,271.0 285.0,268.0C285.5,265.0 286.7,264.9 285.0,262.7C283.3,260.5 281.3,259.6 278.8,259.6C276.3,259.6 277.4,261.9 275.8,262.7C274.2,263.5 274.4,263.5 272.7,262.7C271.0,261.9 271.7,261.3 269.6,259.6C267.5,257.9 267.0,259.0 265.0,256.5C263.0,254.0 263.4,253.3 262.0,250.4C260.6,247.5 261.1,247.9 259.6,245.8C258.1,243.7 257.9,244.8 256.5,242.7C255.1,240.6 254.0,240.1 254.2,238.0C254.4,235.9 257.3,237.0 257.3,235.0C257.3,233.0 254.6,233.1 254.2,230.4C253.8,227.7 253.7,227.1 255.8,225.0Z" fill="#c8fac8" />
<path d="M290.0,326.0C290.9,325.2 292.5,325.4 293.0,327.0C293.5,328.6 292.9,331.2 292.0,332.0C291.1,332.8 290.1,331.6 289.6,330.0C289.1,328.4 289.1,326.8 290.0,326.0Z" fill="#c8fac8" />
<path d="M291.0,293.0C292.1,291.7 293.7,292.9 295.0,295.0C296.3,297.1 296.5,298.3 296.0,301.0C295.5,303.7 294.3,305.3 293.0,305.0C291.7,304.7 291.5,303.2 291.0,300.0C290.5,296.8 289.9,294.3 291.0,293.0Z" fill="#9beeb4" />
<path d="M257.5,235.5C258.0,233.6 259.2,233.7 262.0,233.0C264.8,232.3 265.3,232.2 268.0,233.0C270.7,233.8 270.1,233.6 272.0,236.0C273.9,238.4 272.6,239.6 275.0,242.0C277.4,244.4 276.7,243.5 281.0,245.0C285.3,246.5 287.0,245.1 291.0,247.5C295.0,249.9 294.3,250.9 296.0,254.0C297.7,257.1 298.6,258.2 297.5,259.0C296.4,259.8 295.6,257.8 292.0,257.0C288.4,256.2 288.0,257.1 284.0,256.0C280.0,254.9 280.5,255.1 277.0,253.0C273.5,250.9 273.9,250.7 271.0,248.0C268.1,245.3 268.9,245.1 266.0,243.0C263.1,240.9 262.3,242.0 260.0,240.0C257.7,238.0 257.0,237.4 257.5,235.5Z" fill="#9beeb4" />
<path d="M259.6,235.8C260.7,234.6 262.3,234.2 265.0,234.2C267.7,234.2 267.5,234.0 269.6,235.8C271.7,237.6 270.6,238.3 272.7,241.0C274.8,243.7 274.4,244.1 277.3,245.8C280.2,247.5 279.8,246.5 283.5,247.3C287.2,248.1 287.7,246.7 291.0,248.8C294.3,250.9 295.8,253.3 295.8,255.0C295.8,256.7 293.9,255.4 291.0,255.0C288.1,254.6 288.3,254.6 285.0,253.5C281.7,252.4 281.9,252.7 278.8,251.0C275.7,249.3 276.0,249.5 273.5,247.3C271.0,245.1 271.7,244.8 269.6,242.7C267.5,240.6 268.1,240.6 265.8,239.6C263.5,238.6 262.7,239.8 261.0,238.8C259.3,237.8 258.5,237.0 259.6,235.8Z" fill="#52b89b" />
<path d="M265.8,235.8C266.8,235.4 267.9,235.1 269.6,236.5C271.3,237.9 270.8,238.9 272.0,241.0C273.2,243.1 274.0,243.1 274.2,244.2C274.4,245.3 274.1,245.9 272.7,245.0C271.3,244.1 270.6,242.9 268.8,241.0C267.0,239.1 266.6,239.4 265.8,238.0C265.0,236.6 264.8,236.2 265.8,235.8Z" fill="#2d8cb4" />
<path d="M275.0,245.0C275.0,244.4 276.1,246.3 278.8,247.3C281.5,248.3 281.7,248.0 285.0,248.8C288.3,249.6 288.3,249.0 291.0,250.4C293.7,251.8 295.0,253.5 295.0,254.2C295.0,254.9 293.7,253.6 291.0,253.0C288.3,252.4 288.3,252.9 285.0,252.0C281.7,251.1 281.5,251.5 278.8,249.6C276.1,247.7 275.0,245.6 275.0,245.0Z" fill="#0a4b8c" />
<path d="M276.5,246.5C277.1,245.5 278.1,245.2 280.4,245.8C282.7,246.4 282.5,248.0 285.0,248.8C287.5,249.6 288.2,247.8 289.6,248.8C291.0,249.8 291.2,251.3 290.4,252.7C289.6,254.1 288.7,254.4 286.5,254.2C284.3,254.0 284.3,253.2 282.0,252.0C279.7,250.8 279.5,251.1 278.0,249.6C276.5,248.1 275.9,247.5 276.5,246.5Z" fill="#ee82ee" />
<path d="M277.3,247.3C277.1,246.3 278.6,246.5 280.4,247.3C282.2,248.1 282.0,249.8 284.2,250.4C286.4,251.0 287.4,249.2 288.8,249.6C290.2,250.0 290.4,251.0 289.6,252.0C288.8,253.0 288.1,253.8 285.8,253.5C283.5,253.2 283.3,252.7 281.0,251.0C278.7,249.3 277.5,248.3 277.3,247.3Z" fill="#9a32cd" />
<path d="M258.0,248.5C259.2,247.6 260.4,248.8 263.5,250.0C266.6,251.2 266.7,251.7 269.6,253.0C272.5,254.3 271.8,253.0 274.2,254.8C276.6,256.6 278.0,257.3 278.5,259.6C279.0,261.9 278.0,263.0 276.0,263.5C274.0,264.0 273.5,262.6 271.0,261.4C268.5,260.2 268.9,260.2 266.5,259.0C264.1,257.8 264.0,258.3 262.0,256.8C260.0,255.3 260.1,255.7 259.0,253.5C257.9,251.3 256.8,249.4 258.0,248.5Z" fill="#9beeb4" />
<path d="M258.8,249.6C259.8,249.1 260.6,249.8 263.5,251.0C266.4,252.2 266.7,252.9 269.6,254.2C272.5,255.5 272.1,254.4 274.2,255.8C276.3,257.2 277.1,257.8 277.3,259.6C277.5,261.4 276.7,262.5 275.0,262.7C273.3,262.9 273.3,261.7 271.0,260.4C268.7,259.1 268.9,259.2 266.5,258.0C264.1,256.8 263.8,257.2 262.0,255.8C260.2,254.4 260.5,254.4 259.6,252.7C258.7,251.0 257.8,250.1 258.8,249.6Z" fill="#52b89b" />
<path d="M266.5,254.2C267.3,253.6 270.2,254.4 272.7,255.8C275.2,257.2 275.6,258.2 275.8,259.6C276.0,261.0 275.2,261.4 273.5,261.0C271.8,260.6 271.5,259.8 269.6,258.0C267.7,256.2 265.7,254.8 266.5,254.2Z" fill="#2d9f8c" />
<path d="M295.0,261.0C296.2,260.1 297.3,262.2 300.0,263.5C302.7,264.8 302.7,264.5 305.0,266.0C307.3,267.5 307.8,266.7 308.5,269.0C309.2,271.3 309.0,273.2 307.5,274.5C306.0,275.8 305.3,274.9 303.0,274.0C300.7,273.1 301.0,272.9 299.0,271.0C297.0,269.1 296.6,269.7 295.5,267.0C294.4,264.3 293.8,261.9 295.0,261.0Z" fill="#9beeb4" />
<path d="M296.0,262.5C297.4,262.3 299.2,264.4 302.0,266.0C304.8,267.6 305.5,266.6 306.5,268.4C307.5,270.2 306.9,271.8 305.9,272.8C304.9,273.8 304.5,273.0 302.8,272.0C301.1,271.0 301.4,270.4 299.7,269.0C298.0,267.6 297.6,268.3 296.6,266.6C295.6,264.9 294.6,262.7 296.0,262.5Z" fill="#2d9f8c" />
<path d="M299.0,265.0C299.8,264.7 301.0,265.7 303.0,266.8C305.0,267.9 305.8,267.5 306.5,269.0C307.2,270.5 306.4,272.0 305.5,272.5C304.6,273.0 304.5,272.2 303.0,271.0C301.5,269.8 301.1,269.6 300.0,268.0C298.9,266.4 298.2,265.3 299.0,265.0Z" fill="#0a4b8c" />
<path d="M279.0,369.0C280.6,366.9 282.0,367.0 286.0,367.0C290.0,367.0 291.1,367.4 294.0,369.0C296.9,370.6 293.3,371.9 297.0,373.0C300.7,374.1 302.4,372.5 308.0,373.0C313.6,373.5 314.8,373.4 318.0,375.0C321.2,376.6 322.1,377.7 320.0,379.0C317.9,380.3 315.3,380.3 310.0,380.0C304.7,379.7 305.3,378.5 300.0,378.0C294.7,377.5 295.3,378.8 290.0,378.0C284.7,377.2 282.9,377.4 280.0,375.0C277.1,372.6 277.4,371.1 279.0,369.0Z" fill="#c8fac8" />
<path d="M287.0,369.5C288.3,368.7 291.1,368.7 293.0,369.5C294.9,370.3 295.3,371.7 294.0,372.5C292.7,373.3 289.9,373.3 288.0,372.5C286.1,371.7 285.7,370.3 287.0,369.5Z" fill="#9beeb4" />
<path d="M311.0,374.5C312.6,373.8 316.0,374.6 318.0,375.5C320.0,376.4 320.1,377.3 318.5,378.0C316.9,378.7 314.0,378.9 312.0,378.0C310.0,377.1 309.4,375.2 311.0,374.5Z" fill="#9beeb4" />
<path d="M285.0,373.0C286.3,372.0 287.3,371.7 290.0,372.0C292.7,372.3 293.9,372.7 295.0,374.0C296.1,375.3 295.6,375.9 294.0,377.0C292.4,378.1 291.4,378.4 289.0,378.0C286.6,377.6 286.1,376.9 285.0,375.6C283.9,374.3 283.7,374.0 285.0,373.0Z" fill="#ee82ee" />
<path d="M288.0,373.5C288.9,373.1 290.9,373.2 292.0,373.7C293.1,374.2 292.9,374.9 292.0,375.3C291.1,375.7 289.6,375.8 288.5,375.3C287.4,374.8 287.1,373.9 288.0,373.5Z" fill="#9a32cd" />
<path d="M310.0,376.0C310.9,374.9 312.9,374.7 315.0,375.0C317.1,375.3 317.7,375.7 318.0,377.0C318.3,378.3 317.7,379.5 316.0,380.0C314.3,380.5 313.2,380.1 311.6,379.0C310.0,377.9 309.1,377.1 310.0,376.0Z" fill="#ee82ee" />
<path d="M312.0,376.5C312.8,376.1 314.6,376.2 315.5,376.7C316.4,377.2 316.3,377.8 315.5,378.2C314.7,378.6 313.4,378.7 312.5,378.2C311.6,377.7 311.2,376.9 312.0,376.5Z" fill="#9a32cd" />
<path d="M330.5,377.0C331.8,375.4 333.9,375.6 336.0,376.5C338.1,377.4 338.8,378.5 338.5,380.5C338.2,382.5 337.0,383.5 335.0,384.0C333.0,384.5 332.2,384.4 331.0,382.5C329.8,380.6 329.2,378.6 330.5,377.0Z" fill="#ffe1ff" />
<path d="M332.0,378.0C333.2,377.2 334.7,377.2 336.0,378.0C337.3,378.8 337.5,379.7 337.0,381.0C336.5,382.3 335.4,383.0 334.0,383.0C332.6,383.0 332.1,382.3 331.6,381.0C331.1,379.7 330.8,378.8 332.0,378.0Z" fill="#ee82ee" />
<path d="M143.0,63.4C143.4,61.7 144.9,62.4 146.0,64.0C147.1,65.6 144.9,66.6 147.0,69.5C149.1,72.4 150.3,72.5 153.8,75.0C157.3,77.5 157.7,76.6 160.0,78.8C162.3,81.0 162.3,80.7 162.3,83.4C162.3,86.1 161.2,87.6 160.0,88.8C158.8,90.0 158.3,89.9 157.7,88.0C157.1,86.1 159.4,84.7 157.7,81.8C156.0,78.9 155.0,80.1 151.5,77.0C148.0,73.9 146.9,73.9 144.6,70.3C142.3,66.7 142.6,65.1 143.0,63.4Z" fill="#ffe1ff" />
<path d="M164.6,48.0C164.6,46.7 165.9,46.2 167.7,47.0C169.5,47.8 170.5,48.5 171.5,51.0C172.5,53.5 172.2,55.0 171.5,56.5C170.8,58.0 170.0,57.8 169.0,56.5C168.0,55.2 168.9,54.1 167.7,51.8C166.5,49.5 164.6,49.3 164.6,48.0Z" fill="#ffe1ff" />
<path d="M183.8,51.0C184.5,49.7 186.4,49.7 187.0,50.3C187.6,50.9 186.7,52.1 186.0,53.4C185.3,54.7 184.9,55.6 184.3,55.0C183.7,54.4 183.1,52.3 183.8,51.0Z" fill="#ffe1ff" />
<path d="M179.0,59.0C179.6,58.4 181.0,58.3 181.5,58.8C182.0,59.3 181.6,60.4 181.0,61.0C180.4,61.6 179.8,61.5 179.3,61.0C178.8,60.5 178.4,59.6 179.0,59.0Z" fill="#ffe1ff" />
<path d="M193.8,55.7C194.0,54.3 195.0,55.1 196.0,56.5C197.0,57.9 196.4,59.0 197.7,61.0C199.0,63.0 200.0,60.7 200.8,64.0C201.6,67.3 201.4,71.3 200.8,73.4C200.2,75.5 199.8,73.2 198.5,71.8C197.2,70.4 196.8,70.7 196.0,68.0C195.2,65.3 196.0,65.1 195.4,61.8C194.8,58.5 193.6,57.1 193.8,55.7Z" fill="#ffe1ff" />
<path d="M170.8,76.5C171.8,74.5 172.7,74.2 175.4,73.4C178.1,72.6 178.8,72.4 180.8,73.4C182.8,74.4 183.0,75.2 183.0,77.2C183.0,79.2 182.7,79.8 180.8,81.0C178.9,82.2 178.5,81.8 176.0,81.8C173.5,81.8 172.9,82.4 171.5,81.0C170.1,79.6 169.8,78.5 170.8,76.5Z" fill="#ffe1ff" />
<path d="M219.0,84.0C219.8,82.7 222.7,81.0 223.8,81.0C224.9,81.0 223.8,82.7 223.0,84.0C222.2,85.3 221.9,85.7 220.8,85.7C219.7,85.7 218.2,85.3 219.0,84.0Z" fill="#ffe1ff" />
<path d="M237.7,93.0C238.4,91.3 239.1,91.3 240.0,92.6C240.9,93.9 241.3,95.5 241.0,98.0C240.7,100.5 239.9,101.7 239.0,102.0C238.1,102.3 237.8,101.4 237.5,99.0C237.2,96.6 237.0,94.7 237.7,93.0Z" fill="#ffe1ff" />
<path d="M195.4,105.0C195.9,103.8 197.0,103.2 199.0,103.5C201.0,103.8 202.5,104.7 203.0,106.0C203.5,107.3 202.6,108.0 201.0,108.5C199.4,109.0 198.5,108.9 197.0,108.0C195.5,107.1 194.9,106.2 195.4,105.0Z" fill="#ffe1ff" />
<path d="M165.4,113.0C166.2,111.2 166.3,111.9 169.0,112.3C171.7,112.7 173.7,112.8 175.4,114.6C177.1,116.4 177.9,117.8 175.4,119.0C172.9,120.2 168.7,120.6 166.0,119.0C163.3,117.4 164.6,114.8 165.4,113.0Z" fill="#ffe1ff" />
<path d="M178.5,108.5C179.3,107.3 181.6,106.9 183.0,107.7C184.4,108.5 184.6,110.3 183.8,111.5C183.0,112.7 181.4,113.1 180.0,112.3C178.6,111.5 177.7,109.7 178.5,108.5Z" fill="#ffe1ff" />
<path d="M192.3,115.4C192.9,113.9 193.8,114.6 194.6,116.0C195.4,117.4 192.7,119.5 195.4,120.8C198.1,122.1 201.0,120.4 204.6,120.8C208.2,121.2 206.8,120.6 209.0,122.3C211.2,124.0 212.5,125.3 213.0,127.0C213.5,128.7 212.7,128.8 210.8,128.5C208.9,128.2 208.5,126.4 206.0,126.0C203.5,125.6 203.9,125.9 201.5,127.0C199.1,128.1 199.1,128.0 197.0,130.0C194.9,132.0 196.1,133.4 193.8,134.6C191.5,135.8 190.3,135.8 188.5,134.6C186.7,133.4 186.9,132.5 187.0,130.0C187.1,127.5 187.6,127.7 189.0,125.4C190.4,123.1 191.4,124.2 192.3,121.5C193.2,118.8 191.7,116.9 192.3,115.4Z" fill="#ffe1ff" />
<path d="M202.3,153.0C202.9,151.7 203.7,152.2 205.4,153.8C207.1,155.4 208.3,157.1 208.5,159.0C208.7,160.9 207.5,160.9 206.0,160.8C204.5,160.7 204.0,160.6 203.0,158.5C202.0,156.4 201.7,154.3 202.3,153.0Z" fill="#ffe1ff" />
<path d="M206.0,163.0C206.3,162.2 206.7,164.5 209.0,166.0C211.3,167.5 214.1,167.0 214.6,168.5C215.1,170.0 212.6,171.4 210.8,171.5C209.0,171.6 209.0,171.3 207.7,169.0C206.4,166.7 205.7,163.8 206.0,163.0Z" fill="#ffe1ff" />
<path d="M226.0,149.0C227.2,148.0 230.4,147.7 232.3,147.7C234.2,147.7 234.2,148.0 233.0,149.0C231.8,150.0 229.6,151.5 227.7,151.5C225.8,151.5 224.8,150.0 226.0,149.0Z" fill="#ffe1ff" />
<path d="M196.5,190.8C196.9,189.3 197.7,189.7 199.6,191.5C201.5,193.3 202.3,194.8 203.5,197.7C204.7,200.6 204.9,201.3 204.2,202.3C203.5,203.3 202.7,202.9 201.0,201.5C199.3,200.1 199.2,199.9 198.0,197.0C196.8,194.1 196.1,192.3 196.5,190.8Z" fill="#ffe1ff" />
<path d="M209.6,215.4 L213.5,214.6 L212,218.5Z" fill="#ffe1ff" stroke="none" stroke-width="0" />
<path d="M225.8,173.0C226.5,172.5 228.1,172.7 228.8,173.5C229.5,174.3 229.2,175.5 228.5,176.0C227.8,176.5 226.7,176.3 226.0,175.5C225.3,174.7 225.1,173.5 225.8,173.0Z" fill="#ffe1ff" />
<path d="M236.5,101.5C238.0,102.3 238.5,103.3 241.0,106.0C243.5,108.7 245.3,109.9 245.8,111.5C246.3,113.1 244.9,113.2 243.0,112.0C241.1,110.8 240.5,109.4 238.5,107.0C236.5,104.6 236.0,104.5 235.5,103.0C235.0,101.5 235.0,100.7 236.5,101.5Z" fill="#ffe1ff" />
<path d="M244.0,119.0C243.6,117.7 244.7,117.6 246.0,118.5C247.3,119.4 248.6,121.2 249.0,122.5C249.4,123.8 248.8,124.4 247.5,123.5C246.2,122.6 244.4,120.3 244.0,119.0Z" fill="#ffe1ff" />
<path d="M59.0,193.0C59.9,191.8 60.8,191.4 62.0,192.5C63.2,193.6 63.8,195.1 63.5,197.0C63.2,198.9 62.3,199.5 61.0,199.5C59.7,199.5 59.0,198.7 58.5,197.0C58.0,195.3 58.1,194.2 59.0,193.0Z" fill="#ffe1ff" />
<path d="M63.0,216.0C64.2,214.3 66.1,215.4 68.0,216.5C69.9,217.6 68.8,218.8 70.0,220.0C71.2,221.2 72.0,219.5 72.5,221.0C73.0,222.5 73.1,224.4 72.0,225.5C70.9,226.6 70.8,225.7 68.5,225.0C66.2,224.3 65.0,225.4 63.5,223.0C62.0,220.6 61.8,217.7 63.0,216.0Z" fill="#ffe1ff" />
<path d="M68.0,217.0C68.7,216.2 71.3,215.9 72.5,217.0C73.7,218.1 73.2,220.2 72.5,221.0C71.8,221.8 71.2,221.1 70.0,220.0C68.8,218.9 67.3,217.8 68.0,217.0Z" fill="#ebf5b9" />
<path d="M157.0,240.0C158.1,238.4 158.1,238.4 160.5,238.0C162.9,237.6 164.0,237.4 166.0,238.5C168.0,239.6 168.0,240.0 168.0,242.0C168.0,244.0 167.3,244.8 166.0,246.0C164.7,247.2 164.6,245.7 163.0,246.5C161.4,247.3 161.6,248.6 160.0,249.0C158.4,249.4 157.9,249.3 157.0,248.0C156.1,246.7 156.5,246.1 156.5,244.0C156.5,241.9 155.9,241.6 157.0,240.0Z" fill="#ebf5b9" />
<path d="M141.5,104.6C141.9,103.8 143.5,104.2 146.0,105.4C148.5,106.6 149.3,107.2 150.8,109.0C152.3,110.8 152.1,111.6 151.5,112.3C150.9,113.0 150.3,112.5 148.5,111.5C146.7,110.5 146.5,110.3 144.6,108.5C142.7,106.7 141.1,105.4 141.5,104.6Z" fill="#ffffff" />
<path d="M187.7,150.0C188.4,149.2 190.1,149.4 191.5,150.8C192.9,152.2 193.2,152.9 193.0,155.4C192.8,157.9 192.0,159.0 190.8,160.0C189.6,161.0 189.0,160.7 188.5,159.0C188.0,157.3 189.2,156.2 189.0,153.8C188.8,151.4 187.0,150.8 187.7,150.0Z" fill="#ffffff" />
<path d="M196.0,157.0C196.5,155.9 197.5,155.5 199.0,156.0C200.5,156.5 201.5,157.7 201.5,159.0C201.5,160.3 200.2,160.5 199.0,160.8C197.8,161.1 197.8,161.0 197.0,160.0C196.2,159.0 195.5,158.1 196.0,157.0Z" fill="#ffffff" />
<path d="M199.0,163.0C199.5,162.1 200.4,162.2 201.0,163.5C201.6,164.8 201.8,166.8 201.3,167.7C200.8,168.6 199.9,168.3 199.3,167.0C198.7,165.7 198.5,163.9 199.0,163.0Z" fill="#ffffff" />
<path d="M219.0,166.0C219.5,165.2 220.7,165.4 221.5,166.5C222.3,167.6 222.5,169.2 222.0,170.0C221.5,170.8 220.3,170.6 219.5,169.5C218.7,168.4 218.5,166.8 219.0,166.0Z" fill="#ffffff" />
<path d="M262.0,168.0C262.9,167.6 264.6,167.6 265.5,168.0C266.4,168.4 266.4,169.2 265.5,169.6C264.6,170.0 262.9,170.0 262.0,169.6C261.1,169.2 261.1,168.4 262.0,168.0Z" fill="#ffffff" />
<path d="M269.6,168.6C271.4,168.3 274.7,168.5 276.5,169.0C278.3,169.5 278.3,170.3 276.5,170.6C274.7,170.9 271.4,170.7 269.6,170.2C267.8,169.7 267.8,168.9 269.6,168.6Z" fill="#ffffff" />
<path d="M262.0,147.0C263.0,146.8 264.9,147.3 265.8,148.0C266.7,148.7 266.5,149.3 265.5,149.5C264.5,149.7 262.9,149.5 262.0,148.8C261.1,148.1 261.0,147.2 262.0,147.0Z" fill="#ffffff" />
<path d="M213.0,253.0C214.1,252.3 216.4,252.2 218.0,252.5C219.6,252.8 220.1,253.6 219.0,254.3C217.9,255.0 215.6,255.3 214.0,255.0C212.4,254.7 211.9,253.7 213.0,253.0Z" fill="#ffffff" />
<path d="M310.0,46.0C311.1,45.5 312.9,45.2 314.0,45.5C315.1,45.8 315.1,46.5 314.0,47.0C312.9,47.5 311.1,47.6 310.0,47.3C308.9,47.0 308.9,46.5 310.0,46.0Z" fill="#ffffff" />
<path d="M44.0,39.5C44.5,39.1 45.5,39.1 46.0,39.5C46.5,39.9 46.5,40.6 46.0,41.0C45.5,41.4 44.5,41.4 44.0,41.0C43.5,40.6 43.5,39.9 44.0,39.5Z" fill="#ffffff" />
<path d="M128.0,102.0C128.3,101.5 129.2,101.2 130.0,101.5C130.8,101.8 131.3,102.5 131.0,103.0C130.7,103.5 129.8,103.8 129.0,103.5C128.2,103.2 127.7,102.5 128.0,102.0Z" fill="#ffffff" />
<path d="M141.0,110.0C141.0,109.2 141.9,109.4 143.0,110.5C144.1,111.6 145.0,113.2 145.0,114.0C145.0,114.8 144.1,114.6 143.0,113.5C141.9,112.4 141.0,110.8 141.0,110.0Z" fill="#ffffff" />
<path d="M402.3,198.3C403.2,201.1 404.4,200.6 407.2,200.4C410.0,200.2 409.0,198.3 412.7,197.6C416.4,196.9 416.9,198.0 421.0,197.6C425.1,197.2 424.3,197.7 428.0,196.2C431.7,194.7 431.8,194.6 434.9,192.0C438.0,189.4 437.5,189.1 439.7,186.5C441.9,183.9 444.2,183.9 443.2,182.4C442.2,180.9 442.2,180.6 436.0,181.0C429.8,181.4 426.9,182.7 420.0,184.0C413.1,185.3 414.3,184.4 410.0,186.0C405.7,187.6 406.1,186.7 404.0,190.0C401.9,193.3 401.4,195.5 402.3,198.3Z" fill="#ebf5b9" />
<path d="M450.8,178.0C451.1,176.7 452.3,176.3 455.0,176.0C457.7,175.7 459.7,175.8 461.0,177.0C462.3,178.2 461.9,179.4 460.0,180.5C458.1,181.6 456.5,181.7 454.0,181.0C451.5,180.3 450.5,179.3 450.8,178.0Z" fill="#ebf5b9" />
<path d="M410.6,167.2C412.3,165.4 412.0,164.8 414.8,164.4C417.6,164.0 417.9,164.7 421.0,165.8C424.1,166.9 422.9,167.6 426.6,168.5C430.3,169.4 431.2,169.4 434.9,169.2C438.6,169.0 437.8,168.1 440.4,167.9C443.0,167.7 443.1,167.6 444.6,168.5C446.1,169.4 447.1,170.4 446.0,171.3C444.9,172.2 443.2,171.4 440.4,172.0C437.6,172.6 437.4,172.3 435.6,173.4C433.8,174.5 433.7,174.4 433.5,176.2C433.3,178.0 435.6,178.5 434.9,180.3C434.2,182.1 434.8,181.7 430.7,183.0C426.6,184.3 424.4,184.6 419.6,185.2C414.8,185.8 415.7,184.5 412.7,185.2C409.7,185.9 408.2,186.2 408.5,188.0C408.8,189.8 412.9,189.8 414.0,192.0C415.1,194.2 414.9,194.5 412.7,196.2C410.5,197.9 408.6,198.6 405.8,198.3C403.0,198.0 403.0,197.3 402.3,194.9C401.6,192.5 402.1,191.9 403.0,189.3C403.9,186.7 405.4,187.4 405.8,185.2C406.2,183.0 405.5,183.1 404.4,181.0C403.3,178.9 401.2,179.2 401.6,177.5C402.0,175.8 404.0,176.5 405.8,174.8C407.6,173.1 407.2,173.3 408.5,171.3C409.8,169.3 408.9,169.0 410.6,167.2Z" fill="#c8fac8" />
<path d="M409.2,174.8C412.7,173.3 412.6,173.1 416.9,172.7C421.2,172.3 421.9,172.7 425.2,173.4C428.5,174.1 427.5,173.8 429.3,175.5C431.1,177.2 432.3,177.8 432.0,179.6C431.7,181.4 431.7,181.5 428.0,182.4C424.3,183.3 422.7,182.8 418.2,183.0C413.7,183.2 414.6,183.5 411.3,183.0C408.0,182.5 407.8,182.3 405.8,181.0C403.8,179.7 402.8,179.9 403.7,178.2C404.6,176.5 405.7,176.3 409.2,174.8Z" fill="#9beeb4" />
<path d="M410.6,178.2C413.3,177.0 413.9,176.9 418.2,176.9C422.5,176.9 423.6,177.3 426.6,178.2C429.6,179.1 430.0,179.3 429.3,180.3C428.6,181.3 428.2,181.4 423.8,182.0C419.4,182.6 416.9,182.6 412.7,182.4C408.5,182.2 408.5,182.4 407.9,181.3C407.3,180.2 407.9,179.4 410.6,178.2Z" fill="#52b89b" />
<path d="M411.3,179.6C413.3,178.9 415.5,178.4 419.6,178.5C423.7,178.6 426.6,179.2 426.6,179.9C426.6,180.6 423.5,180.9 419.6,181.3C415.7,181.7 414.2,181.8 412.0,181.3C409.8,180.8 409.3,180.3 411.3,179.6Z" fill="#2d9f8c" />
<path d="M413.0,180.0C414.7,179.6 417.1,179.4 420.0,179.4C422.9,179.4 424.0,179.7 424.0,180.1C424.0,180.5 422.8,180.6 420.0,180.8C417.2,181.0 415.4,181.0 413.5,180.8C411.6,180.6 411.3,180.4 413.0,180.0Z" fill="#1f6f60" />
<path d="M403.7,190.7C404.4,188.7 405.4,188.6 407.2,188.6C409.0,188.6 409.5,189.0 410.6,190.7C411.7,192.4 412.0,193.1 411.3,194.9C410.6,196.7 409.7,197.3 407.9,197.6C406.1,197.9 405.5,198.0 404.4,196.2C403.3,194.4 403.0,192.7 403.7,190.7Z" fill="#9beeb4" />
<path d="M405.0,192.0C405.9,190.9 407.2,190.1 408.5,190.7C409.8,191.3 410.3,192.7 410.0,194.2C409.7,195.7 408.5,196.3 407.2,196.5C405.9,196.7 405.6,196.1 405.0,194.9C404.4,193.7 404.1,193.1 405.0,192.0Z" fill="#2d9f8c" />
<path d="M417.5,186.5C418.8,185.5 420.7,185.7 422.4,186.3C424.1,186.9 424.4,187.2 423.8,188.6C423.2,190.0 422.0,191.0 420.3,191.4C418.6,191.8 418.2,191.3 417.5,190.0C416.8,188.7 416.2,187.5 417.5,186.5Z" fill="#bebebe" />
<path d="M430.0,186.5C431.5,185.6 434.2,185.5 436.2,185.9C438.2,186.3 438.3,186.7 437.6,188.0C436.9,189.3 435.4,190.4 433.5,190.7C431.6,191.0 431.3,190.4 430.4,189.3C429.5,188.2 428.5,187.4 430.0,186.5Z" fill="#bebebe" />
<path d="M448.7,170.0C450.1,168.9 452.5,168.3 454.3,168.5C456.1,168.7 456.2,169.3 455.6,170.6C455.0,171.9 454.0,172.8 452.2,173.4C450.4,174.0 449.9,173.6 449.0,172.7C448.1,171.8 447.3,171.1 448.7,170.0Z" fill="#bebebe" />
<path d="M437.6,173.0C438.4,172.4 439.5,172.2 441.0,172.7C442.5,173.2 443.5,174.1 443.2,175.0C442.9,175.9 441.4,176.2 440.0,176.2C438.6,176.2 438.6,175.9 438.0,175.0C437.4,174.1 436.8,173.6 437.6,173.0Z" fill="#ee82ee" />
<path d="M460.5,170.6C462.3,169.3 464.3,169.4 468.0,169.2C471.7,169.0 472.8,168.7 474.3,170.0C475.8,171.3 475.6,172.3 473.6,174.0C471.6,175.7 470.0,176.2 466.7,176.2C463.4,176.2 462.9,175.5 461.2,174.0C459.5,172.5 458.7,171.9 460.5,170.6Z" fill="#ee82ee" />
<path d="M430.7,144.0C430.7,143.3 433.5,145.2 437.6,146.4C441.7,147.6 441.5,147.6 446.0,148.5C450.5,149.4 449.9,149.3 454.3,149.8C458.7,150.3 458.2,150.7 462.6,150.5C467.0,150.3 467.1,149.3 470.9,149.0C474.7,148.7 475.6,148.4 477.0,149.5C478.4,150.6 478.4,151.4 476.0,153.0C473.6,154.6 471.9,154.9 468.0,155.4C464.1,155.9 464.9,155.4 461.2,154.7C457.5,154.0 458.4,153.5 454.3,152.6C450.2,151.7 450.5,152.2 446.0,151.2C441.5,150.2 441.7,150.9 437.6,149.0C433.5,147.1 430.7,144.7 430.7,144.0Z" fill="#52b89b" />
<path d="M452.0,149.6C452.7,149.0 456.8,150.2 462.6,150.3C468.4,150.4 472.2,149.2 473.6,149.8C475.0,150.4 471.7,151.9 468.0,152.6C464.3,153.3 464.1,153.4 459.8,152.6C455.5,151.8 451.3,150.2 452.0,149.6Z" fill="#2d9f8c" />
<path d="M407.0,140.0C407.8,136.5 408.6,134.5 411.5,130.8C414.4,127.1 414.8,126.0 417.7,126.0C420.6,126.0 420.2,127.5 422.3,130.8C424.4,134.1 426.3,136.0 425.4,138.5C424.5,141.0 422.3,138.8 419.0,140.0C415.7,141.2 415.8,142.0 413.0,143.0C410.2,144.0 410.1,144.6 408.5,143.8C406.9,143.0 406.2,143.5 407.0,140.0Z" fill="#2d9f8c" />
<path d="M412.5,133.0C413.8,130.2 414.9,129.5 417.0,129.5C419.1,129.5 419.3,130.7 420.5,133.0C421.7,135.3 422.7,136.3 421.5,138.0C420.3,139.7 418.5,139.0 416.0,139.5C413.5,140.0 412.9,141.7 412.0,140.0C411.1,138.3 411.2,135.8 412.5,133.0Z" fill="#238070" />
<path d="M455.0,325.0C456.2,322.9 457.4,322.2 459.0,323.0C460.6,323.8 461.3,324.5 461.0,328.0C460.7,331.5 459.6,333.6 458.0,336.0C456.4,338.4 455.9,338.3 455.0,337.0C454.1,335.7 454.5,334.2 454.5,331.0C454.5,327.8 453.8,327.1 455.0,325.0Z" fill="#ffe1ff" />
<path d="M511.0,277.0C515.4,274.3 520.7,274.5 526.0,275.0C531.3,275.5 529.4,276.3 531.0,279.0C532.6,281.7 532.3,281.8 532.0,285.0C531.7,288.2 529.5,287.3 530.0,291.0C530.5,294.7 532.4,295.3 534.0,299.0C535.6,302.7 536.5,303.7 536.0,305.0C535.5,306.3 535.2,305.6 532.0,304.0C528.8,302.4 527.7,299.8 524.0,299.0C520.3,298.2 520.7,301.5 518.0,301.0C515.3,300.5 515.9,299.7 514.0,297.0C512.1,294.3 512.2,294.2 511.0,291.0C509.8,287.8 509.5,288.7 509.5,285.0C509.5,281.3 506.6,279.7 511.0,277.0Z" fill="#bebebe" />
<path d="M487.0,265.0C488.3,262.7 490.1,262.7 492.0,263.5C493.9,264.3 493.5,264.9 494.0,268.0C494.5,271.1 495.1,272.6 494.0,275.0C492.9,277.4 491.9,277.8 490.0,277.0C488.1,276.2 487.8,275.2 487.0,272.0C486.2,268.8 485.7,267.3 487.0,265.0Z" fill="#bebebe" />
<path d="M494.4,265.0C495.3,262.8 497.0,264.1 498.0,266.8C499.0,269.5 498.9,272.8 498.0,275.0C497.1,277.2 495.7,277.7 494.7,275.0C493.7,272.3 493.5,267.2 494.4,265.0Z" fill="#ffffff" />
<path d="M510.0,278.0C510.4,275.7 513.2,276.4 516.4,279.0C519.6,281.6 522.4,285.5 522.0,287.8C521.6,290.1 518.0,290.4 514.8,287.8C511.6,285.2 509.6,280.3 510.0,278.0Z" fill="#ffffff" />
<path d="M413,103 L417,84.6 L426,73 L442,73 L456,72 L465,80 L477,84.6 L488,80 L500,70.8 L516,60.4 L525,58" fill="none" stroke="#cdd6a2" stroke-width="0.5" stroke-linejoin="round" />
<path d="M445.6,107.7 L456,105.4 L465,112.3 L474.5,114.6 L472,123.8 L465,130.8 L453.7,119 L448,114.6 L445.6,107.7" fill="none" stroke="#cdd6a2" stroke-width="0.5" stroke-linejoin="round" />
<path d="M476.8,104 L483.7,102 L495,102 L506.8,99.6 L511.4,91.5 L520.6,80 L525,66" fill="none" stroke="#cdd6a2" stroke-width="0.5" stroke-linejoin="round" />
<path d="M516,107.7 L530,100.8 L545,97.3" fill="none" stroke="#cdd6a2" stroke-width="0.5" stroke-linejoin="round" />
<path d="M465,132 L488.3,128.5 L504.5,119 L516,107.7" fill="none" stroke="#cdd6a2" stroke-width="0.5" stroke-linejoin="round" />
<path d="M155,355 L161,367.5 L159.6,387.8 L167.5,406.7 L177,425.5 L180,441" fill="none" stroke="#cdd6a2" stroke-width="0.5" stroke-linejoin="round" />
<path d="M180,353 L191,350 L202,356.5 L205,369 L197,383 L187.8,384.7 L180,376.9 L181.6,364.3 L180,353" fill="none" stroke="#cdd6a2" stroke-width="0.5" stroke-linejoin="round" />
<path d="M194,428.6 L206.7,424 L219,416 L224,425.5 L209.8,438 L208,447.5" fill="none" stroke="#cdd6a2" stroke-width="0.5" stroke-linejoin="round" />
<path d="M116,342 L117,358 L128,392 L136,408 L137.5,430 L142,445 L150,458" fill="none" stroke="#cdd6a2" stroke-width="0.5" stroke-linejoin="round" />
<path d="M454,408 L456,420 L461,436 L468,449 L474,458" fill="none" stroke="#cdd6a2" stroke-width="0.5" stroke-linejoin="round" />
<path d="M508,378 L501,385 L494,396 L485,406 L478,402 L472,407 L469,414" fill="none" stroke="#cdd6a2" stroke-width="0.5" stroke-linejoin="round" />
<path d="M292,232 L296,250 L298.5,259 L306,257.5 L312,252" fill="none" stroke="#cdd6a2" stroke-width="0.5" stroke-linejoin="round" />
<path d="M283,296 L281.5,310 L283,322 L287,332 L289,344" fill="none" stroke="#cdd6a2" stroke-width="0.5" stroke-linejoin="round" />
<path d="M303,296 L301,310 L298,322" fill="none" stroke="#cdd6a2" stroke-width="0.5" stroke-linejoin="round" />
<path d="M400,160 L404,165 L410,168 L416,163 L424,157 L436,157 L446,161 L452,166" fill="none" stroke="#cdd6a2" stroke-width="0.5" stroke-linejoin="round" />
<path d="M396,186 L404,187 L408,194 L416,196 L424,193 L432,189 L438,184" fill="none" stroke="#cdd6a2" stroke-width="0.5" stroke-linejoin="round" />
<path d="M41,29 L429,29 L428,44 L427,54 L420,58 L412,61 L408,67 L406,76 L405,86 L400,88 L394,94 L398,98 L404,104 L408,114 L410,122 L412,131 L418,137 L426,142 L436,146 L444,148 L456,150 L470,149.5 L480,148 L490,151 L498,153 L510,151 L513,143 L524,137 L535,132 L546,127 L546,345 L540,340 L530,329 L514,322 L500,317 L489,318 L486,330 L484,340 L476,340 L470,341 L462,344 L450,340 L444,334 L443,326 L437,327 L432,322 L426,318 L418,320 L412,323 L404,322 L392,320.5 L400,319 L412,318 L414,315 L420,310 L406,311 L390,312 L387,309.5 L393,307 L397,303 L390,296 L386,290 L382,285 L388,281 L386,276 L378,273 L374,267 L371,261 L376,258 L384,256 L376,250 L372,245 L378,241 L381,238 L375,232 L372,225 L370,224 L374,221 L380,218 L378,215 L372,215 L360,216 L354,217 L352,214 L353,202 L356,196 L354,196 L355.5,194 L358,187 L356,184 L359.8,181 L366,177.3 L373.5,174.8 L374.7,171.7 L369.7,170.5 L363.5,172.3 L352.4,171.7 L351,167.4 L347.4,162.4 L336,162 L326,160 L320,157.5 L315.7,159.3 L310.7,162.4 L307,160 L303.3,158.7 L298.3,161.8 L294.6,165.5 L289.6,167.4 L284,165.5 L280.3,168 L281,171 L284,174.8 L286,178 L289,179 L293.3,180.4 L297.7,184.8 L300.8,189.7 L298.3,190.4 L295.8,185.4 L292,181.7 L286.5,181.7 L282.8,181.7 L280.3,184 L282.8,185.4 L286.5,189.7 L289.6,193.5 L289,197.8 L286.5,197.8 L283.4,193.5 L281,189.7 L279.7,186 L276,186.6 L271.6,186.6 L271,190.4 L273.5,194.7 L278.5,197 L281,199 L277,198.4 L271,197 L268.8,193.5 L269,188.5 L270.4,185.4 L268,186.6 L261.7,184 L256,180.4 L253.6,176.7 L256.7,175.5 L258,172.4 L255.5,170.5 L251.8,173.6 L247.4,176 L248,179 L246.8,183.5 L245.6,191 L247.4,197 L251.8,202 L256,211 L262,217.4 L267,223.6 L270,228.5 L268,232.5 L263,234.5 L258,237 L250,237.5 L246.7,239.7 L253.5,242 L261,246 L268.4,251 L274.6,254.6 L277,260.8 L284,261 L289.5,263.6 L292,268.6 L289.5,274.8 L290.8,283.5 L289.5,287 L287,284.7 L283.3,279 L279.6,274 L272,273 L267,274.8 L262,273.6 L258,271 L254.8,265.5 L249.8,261.2 L244.9,261.8 L239.9,258 L232.4,259.3 L225,258.7 L218,261.5 L209,262 L203,260 L200,253 L195,245 L190,241 L192,236 L188.4,233.3 L183.5,228.4 L178.5,223.4 L174.8,217 L173.5,211.6 L171,208.5 L168.6,203.6 L166,198.6 L161,192.4 L152.4,186 L153.8,179 L150.8,175.4 L147.7,170.8 L150,163 L153,158.5 L151.5,152.3 L153,146 L150.8,140 L152.3,133 L156,130.8 L155.4,123 L148.5,120.8 L143,118.5 L140,111.5 L134,105 L128,101 L121,97 L116,92 L109,87 L104,81 L98,77 L90,74 L83,68 L75,60 L66,55 L59,53 L52,54 L46,53 L42,45 L41,45Z" fill="none" stroke="#000" stroke-width="0.7" />
<path d="M41,118 L50,118 L54,122 L52,127 L46,131 L46,136 L52,141 L64,147 L80,153 L92,163 L106,169 L110,174 L118,181 L123,191 L120,197 L119,204 L114,202 L108,196 L109,192 L105,186 L100,184 L93,184 L85,180 L81,175 L77,177 L72,183 L66,195 L65,200 L62,205 L64,211 L72,212 L77,217 L82,220 L81,227 L83,234 L81,239 L72,240 L65,244 L64,249 L65,257 L60,261 L54,267 L50,276 L41,277 L41,262 L45,255 L42,250 L47,246 L53,245 L54,239 L50,233 L49,225 L46,217 L42,207 L41,205Z" fill="none" stroke="#000" stroke-width="0.7" />
<path d="M361,248 L365,249 L369,254 L370,260 L375,262 L372,266 L368,269 L363,267 L359,263 L358,260 L361,256 L360,251Z" fill="none" stroke="#000" stroke-width="0.7" />
<path d="M210.2,265.4 L218.5,266.8 L224.8,262.5 L231,263.3 L238,267.5 L243.5,268.9 L250.4,273 L255.4,274.8 L258,271 L262,273.6 L261.5,279.2 L264.3,282.7 L265,288.2 L269.7,291 L272.6,292.4 L274,296 L269.7,298 L264.3,298 L262.9,300.7 L258.7,297.2 L254.6,294.5 L251.1,293 L250.4,289.6 L251.8,296.6 L254.6,302 L257.3,309 L259.4,314.6 L261.5,320 L264,333 L259,332 L256,325 L250,319 L245,323 L243,333 L240.7,330 L240.7,326 L238.6,321.5 L235.9,316 L233,311.8 L228.2,312.5 L226.9,317.3 L224.8,323.6 L223.4,320 L220.6,323.6 L220,318.7 L218.5,313.2 L215.8,308.3 L217.9,303.5 L220.6,298.6 L217.9,295.9 L213,291 L208.2,286.9 L206.8,282 L202,277.9 L208.9,270.2Z" fill="none" stroke="#000" stroke-width="0.7" />
<path d="M276,363 L277,369 L274,376 L282,379 L300,380 L312,384 L312,389 L326,388 L336,385 L346,385 L354,386 L356,382 L359,378 L358,376 L354,378 L348,379 L343,381 L341,380 L342,374 L332,374 L320,372 L310,372 L298,370 L296,367 L292,365 L288,367 L283,367 L282,362 L280,361 L279,367Z" fill="none" stroke="#000" stroke-width="0.7" />
<path d="M259.7,237 L268.4,234 L272,238.5 L277,243.4 L283.3,246 L290.8,247 L294.5,252 L296.3,259.6 L300,266 L304,271 L301,272 L296,268 L290,263 L284,258.5 L279.6,257 L277,252 L274.6,249.6 L268.4,243.4 L262,241Z" fill="none" stroke="#000" stroke-width="0.7" />
<path d="M539,383 L546,384 L546,398 L543,393 L540,388Z" fill="none" stroke="#000" stroke-width="0.7" />
<path d="M355.5,194.5 L360.4,188.5 L366,184.7 L371,179 L377,174 L386,170.5 L390.8,164.9 L395,158.7 L399.5,155.6 L402,157 L410,155 L420,153 L428,154 L432,156 L440,156.5 L441,150 L443,147.5 L445,148.5 L443,157 L448,164 L470,166 L470,168 L452,168 L444,170 L434,174 L436,178 L444,179 L436,181 L426,180 L410,180 L408,176 L402,175.5 L400,179 L394.6,183.5 L390.2,181.6 L389,177.3 L384.6,177.9 L380.9,179.8 L372.2,180.4 L368.5,182.9 L362.3,187.2 L359.8,191.6 L354.9,196Z" fill="none" stroke="#000" stroke-width="0.7" />
<path d="M258.5,221.7 L254,224 L253.5,227.3 L256,230.4 L262,231 L264,234 L267,233 L266,229 L264.7,224.8 L262,222.3Z" fill="none" stroke="#000" stroke-width="0.7" />
<path d="M191,234.5 L194,233 L200,234 L203,237 L201,240 L196,239 L193,237.5Z" fill="none" stroke="#000" stroke-width="0.7" />
<path d="M351,167.4 L347.4,162.4 L336,162 L326,160 L320,157.5 L315.7,159.3 L310.7,162.4 L307,160 L303.3,158.7 L298.3,161.8 L294.6,165.5 L289.6,167.4 L284,165.5 L280.3,168 L281,171 L284,174.8 L286,178 L289,179 L293.3,180.4 L297.7,184.8 L300.8,189.7 L298.3,190.4 L295.8,185.4 L292,181.7 L286.5,181.7 L282.8,181.7 L280.3,184 L282.8,185.4 L286.5,189.7 L289.6,193.5 L289,197.8 L286.5,197.8 L283.4,193.5 L281,189.7 L279.7,186 L276,186.6 L271.6,186.6 L271,190.4 L273.5,194.7 L278.5,197 L281,199 L277,198.4 L271,197 L268.8,193.5 L269,188.5 L270.4,185.4 L268,186.6 L261.7,184 L256,180.4 L253.6,176.7 L256.7,175.5 L258,172.4 L255.5,170.5 L251.8,173.6 L247.4,176 L248,179 L246.8,183.5 L245.6,191 L247.4,197 L251.8,202 L256,211 L262,217.4 L267,223.6 L270,228.5 L268,232.5 L263,234.5 L258,237 L250,237.5 L246.7,239.7 L253.5,242 L261,246 L268.4,251 L274.6,254.6 L277,260.8 L284,261 L289.5,263.6 L292,268.6 L289.5,274.8 L290.8,283.5 L289.5,287 L287,284.7 L283.3,279 L279.6,274 L272,273 L267,274.8 L262,273.6 L258,271 L254.8,265.5 L249.8,261.2 L244.9,261.8 L239.9,258 L232.4,259.3 L225,258.7 L218,261.5 L209,262 L203,260 L200,253 L195,245 L190,241 L192,236 L188.4,233.3 L183.5,228.4 L178.5,223.4 L174.8,217 L173.5,211.6 L171,208.5" fill="none" stroke="#000" stroke-width="1.1" stroke-linejoin="round" />
<path d="M210.2,265.4 L218.5,266.8 L224.8,262.5 L231,263.3 L238,267.5 L243.5,268.9 L250.4,273 L255.4,274.8 L258,271 L262,273.6 L261.5,279.2 L264.3,282.7 L265,288.2 L269.7,291 L272.6,292.4 L274,296 L269.7,298 L264.3,298 L262.9,300.7 L258.7,297.2 L254.6,294.5 L251.1,293 L250.4,289.6 L251.8,296.6 L254.6,302 L257.3,309 L259.4,314.6 L261.5,320 L264,333 L259,332 L256,325 L250,319 L245,323 L243,333 L240.7,330 L240.7,326 L238.6,321.5 L235.9,316 L233,311.8 L228.2,312.5 L226.9,317.3 L224.8,323.6 L223.4,320 L220.6,323.6 L220,318.7 L218.5,313.2 L215.8,308.3 L217.9,303.5 L220.6,298.6 L217.9,295.9 L213,291 L208.2,286.9 L206.8,282 L202,277.9 L208.9,270.2Z" fill="none" stroke="#000" stroke-width="1.1" />
<path d="M276,363 L277,369 L274,376 L282,379 L300,380 L312,384 L312,389 L326,388 L336,385 L346,385 L354,386 L356,382 L359,378 L358,376 L354,378 L348,379 L343,381 L341,380 L342,374 L332,374 L320,372 L310,372 L298,370 L296,367 L292,365 L288,367 L283,367 L282,362 L280,361 L279,367Z" fill="none" stroke="#000" stroke-width="1.1" />
<path d="M259.7,237 L268.4,234 L272,238.5 L277,243.4 L283.3,246 L290.8,247 L294.5,252 L296.3,259.6 L300,266 L304,271 L301,272 L296,268 L290,263 L284,258.5 L279.6,257 L277,252 L274.6,249.6 L268.4,243.4 L262,241Z" fill="none" stroke="#000" stroke-width="1.1" />
<path d="M258.5,221.7 L254,224 L253.5,227.3 L256,230.4 L262,231 L264,234 L267,233 L266,229 L264.7,224.8 L262,222.3Z" fill="none" stroke="#000" stroke-width="1.1" />
<path d="M191,234.5 L194,233 L200,234 L203,237 L201,240 L196,239 L193,237.5Z" fill="none" stroke="#000" stroke-width="1.1" />
<path d="M73.9,62 L72.4,63.2 L68.8,63.7 L64.5,63.1 L61.2,61.7 L60.1,60 L61.6,58.8 L65.2,58.3 L69.5,58.9 L72.8,60.3Z" fill="#bebebe" stroke="#000" stroke-width="0.6" />
<path d="M79.9,69.4 L77.9,70.2 L72.8,70.1 L66.7,69.3 L61.8,67.9 L60.1,66.6 L62.1,65.8 L67.2,65.9 L73.3,66.7 L78.2,68.1Z" fill="#bebebe" stroke="#000" stroke-width="0.6" />
<path d="M81,76.8 L79.3,77.6 L75.3,77.8 L70.4,77.3 L66.5,76.3 L65,75.2 L66.7,74.4 L70.7,74.2 L75.6,74.7 L79.5,75.7Z" fill="#bebebe" stroke="#000" stroke-width="0.6" />
<path d="M98.8,86.1 L97.5,86.5 L94.5,86.2 L90.9,85.2 L88.1,84 L87.2,82.9 L88.5,82.5 L91.5,82.8 L95.1,83.8 L97.9,85Z" fill="#bebebe" stroke="#000" stroke-width="0.6" />
<path d="M54.5,72.5 L54,73.3 L52.6,74.1 L50.8,74.4 L49.2,74.2 L48.5,73.5 L49,72.7 L50.4,71.9 L52.2,71.6 L53.8,71.8Z" fill="#bebebe" stroke="#000" stroke-width="0.6" />
<path d="M75.8,85 L75.5,85.7 L74.6,86.1 L73.4,86.1 L72.5,85.7 L72.2,85 L72.5,84.3 L73.4,83.9 L74.6,83.9 L75.5,84.3Z" fill="#bebebe" stroke="#000" stroke-width="0.6" />
<path d="M96.3,78.9 L94.5,78.9 L90.2,77.6 L85,75.5 L81,73.4 L79.7,72.1 L81.5,72.1 L85.8,73.4 L91,75.5 L95,77.6Z" fill="#bebebe" stroke="#000" stroke-width="0.6" />
<path d="M157.4,204.8 L163.6,203.6 L166.7,204.8 L164.9,208.5 L166,213.5 L169.8,217 L171.7,221 L169,220 L165.5,217.8 L163.6,213.5 L159.9,209Z" fill="#bebebe" stroke="#000" stroke-width="1.05" />
<path d="M175.2,229.8 L174.5,229.8 L173.5,229.1 L172.6,228 L172,226.9 L172.2,226.2 L172.9,226.2 L173.9,226.9 L174.8,228 L175.4,229.1Z" fill="#bebebe" stroke="#000" stroke-width="1.05" />
<path d="M186,243 L189,242 L190.5,246 L190,251 L187.5,253 L186.5,249Z" fill="#bebebe" stroke="#000" stroke-width="1.05" />
<path d="M180,258 L184,255.5 L188,257 L191,256 L192.5,262 L191,270 L188,272 L185,268 L180.5,266 L179,262Z" fill="#bebebe" stroke="#000" stroke-width="1.05" />
<path d="M187.5,277 L190,276.5 L194,281 L197.5,284 L197,287 L193,286.5 L189,282Z" fill="#bebebe" stroke="#000" stroke-width="1.05" />
<path d="M196.2,249.2 L195.8,250.3 L195,250.9 L194.3,250.8 L193.8,250 L193.8,248.8 L194.2,247.7 L195,247.1 L195.7,247.2 L196.2,248Z" fill="#bebebe" stroke="#000" stroke-width="1.05" />
<path d="M256,335.5 L260,335 L262,339 L261,344 L258.5,345 L255.5,341Z" fill="#bebebe" stroke="#000" stroke-width="1.05" />
<path d="M312.8,168.8 L312,171.5 L309.8,173.2 L307.2,173.2 L305,171.5 L304.2,168.8 L305,166.1 L307.2,164.4 L309.8,164.4 L312,166.1Z" fill="#bebebe" stroke="#000" stroke-width="1.05" />
<path d="M341,178.3 L340.1,179.6 L338,180.2 L335.6,180 L333.7,179 L333,177.7 L333.9,176.4 L336,175.8 L338.4,176 L340.3,177Z" fill="#bebebe" stroke="#000" stroke-width="1.05" />
<path d="M350.4,188.5 L349.6,190.3 L347.1,191.7 L343.7,192.2 L340.8,191.5 L339.6,190.1 L340.4,188.3 L342.9,186.9 L346.3,186.4 L349.2,187.1Z" fill="#bebebe" stroke="#000" stroke-width="1.05" />
<path d="M320,196 L324,197.5 L327,196 L329,194.5 L333,195 L332,199 L330,204 L327,204.5 L325,202 L322,203.5 L320,200Z" fill="#bebebe" stroke="#000" stroke-width="1.05" />
<path d="M321,215 L320.7,216.3 L320,217.1 L319,217.1 L318.3,216.3 L318,215 L318.3,213.7 L319,212.9 L320,212.9 L320.7,213.7Z" fill="#bebebe" stroke="#000" stroke-width="1.05" />
<path d="M352,203 L351.6,203.6 L350.6,204 L349.4,204 L348.4,203.6 L348,203 L348.4,202.4 L349.4,202 L350.6,202 L351.6,202.4Z" fill="#bebebe" stroke="#000" stroke-width="1.05" />
<path d="M274.8,229.3 L274.5,230.1 L273.6,230.5 L272.4,230.5 L271.5,230.1 L271.2,229.3 L271.5,228.5 L272.4,228.1 L273.6,228.1 L274.5,228.5Z" fill="#bebebe" stroke="#000" stroke-width="1.05" />
<path d="M282.3,231.5 L281.2,232.3 L279.5,232.3 L277.9,231.3 L277,229.9 L277.1,228.5 L278.2,227.7 L279.9,227.7 L281.5,228.7 L282.4,230.1Z" fill="#bebebe" stroke="#000" stroke-width="1.05" />
<path d="M289.3,224.4 L289.4,225.3 L288.5,226.7 L287.1,227.8 L285.6,228.4 L284.7,228.2 L284.6,227.3 L285.5,225.9 L286.9,224.8 L288.4,224.2Z" fill="#bebebe" stroke="#000" stroke-width="1.05" />
<path d="M302.8,235 L305.9,236.8 L309.6,242.4 L308.3,244.9 L304.6,243 L302,240Z" fill="#bebebe" stroke="#000" stroke-width="1.05" />
<path d="M345,226 L349,223.5 L354,225 L357,222.5 L362,222 L366,225 L368,230 L364,235 L358,236 L355,232.5 L352,232 L350,235.5 L346,234Z" fill="#bebebe" stroke="#000" stroke-width="1.05" />
<path d="M345.5,251 L349,250 L352,252 L356.5,254 L355,259 L354,264 L351,268 L348,266 L349.5,260 L347,256Z" fill="#bebebe" stroke="#000" stroke-width="1.05" />
<path d="M338,251.5 L337.6,252.4 L336.6,252.9 L335.4,252.9 L334.4,252.4 L334,251.5 L334.4,250.6 L335.4,250.1 L336.6,250.1 L337.6,250.6Z" fill="#bebebe" stroke="#000" stroke-width="1.05" />
<path d="M366,283.5 L370,281.5 L376,281 L381.5,283 L379,286.5 L373,287.5 L368,286.5Z" fill="#bebebe" stroke="#000" stroke-width="1.05" />
<path d="M349,290 L353,287.5 L358,286 L361,286.5 L358,289.5 L353,292 L350,292.5Z" fill="#bebebe" stroke="#000" stroke-width="1.05" />
<path d="M309.6,274.5 L313,274 L317,278 L320.8,283 L320,286.5 L316,285 L312,280Z" fill="#bebebe" stroke="#000" stroke-width="1.05" />
<path d="M320,287 L323,289 L326.5,293 L325,295.5 L321,292 L318.5,288.5Z" fill="#bebebe" stroke="#000" stroke-width="1.05" />
<path d="M333.8,294.3 L333.3,295.5 L331.2,296.6 L328.6,297.3 L326.2,297.4 L325.2,296.7 L325.7,295.5 L327.8,294.4 L330.4,293.7 L332.8,293.6Z" fill="#bebebe" stroke="#000" stroke-width="1.05" />
<path d="M337.1,296 L336.8,296.7 L336,297.1 L335,297.1 L334.2,296.7 L333.9,296 L334.2,295.3 L335,294.9 L336,294.9 L336.8,295.3Z" fill="#bebebe" stroke="#000" stroke-width="1.05" />
<path d="M300.9,289 L300,290.9 L298.7,291.9 L297.5,291.6 L296.9,290.1 L297.1,288 L298,286.1 L299.3,285.1 L300.5,285.4 L301.1,286.9Z" fill="#bebebe" stroke="#000" stroke-width="1.05" />
<path d="M302.9,297.4 L302.2,299 L301.2,299.9 L300.3,299.6 L299.9,298.4 L300.1,296.6 L300.8,295 L301.8,294.1 L302.7,294.4 L303.1,295.6Z" fill="#bebebe" stroke="#000" stroke-width="1.05" />
<path d="M318.1,295 L317.8,296.8 L317,297.9 L316,297.9 L315.2,296.8 L314.9,295 L315.2,293.2 L316,292.1 L317,292.1 L317.8,293.2Z" fill="#bebebe" stroke="#000" stroke-width="1.05" />
<path d="M305.3,306 L305,306.9 L304.1,307.5 L302.9,307.5 L302,306.9 L301.7,306 L302,305.1 L302.9,304.5 L304.1,304.5 L305,305.1Z" fill="#bebebe" stroke="#000" stroke-width="1.05" />
<path d="M311.9,312.1 L312.1,313.6 L311.6,314.7 L310.7,314.9 L309.7,314.2 L309.1,312.9 L308.9,311.4 L309.4,310.3 L310.3,310.1 L311.3,310.8Z" fill="#bebebe" stroke="#000" stroke-width="1.05" />
<path d="M299,320 L303,318.5 L307,320 L306,324.5 L302,323 L300,325Z" fill="#bebebe" stroke="#000" stroke-width="1.05" />
<path d="M315.3,320.5 L315,321.2 L314.1,321.6 L312.9,321.6 L312,321.2 L311.7,320.5 L312,319.8 L312.9,319.4 L314.1,319.4 L315,319.8Z" fill="#bebebe" stroke="#000" stroke-width="1.05" />
<path d="M320,308 L324,306 L328,307 L327,312 L323,314 L319.5,312Z" fill="#bebebe" stroke="#000" stroke-width="1.05" />
<path d="M330,306 L334,304 L337.5,306 L338,311 L335,315 L331.5,313.5 L329.5,310Z" fill="#bebebe" stroke="#000" stroke-width="1.05" />
<path d="M330.8,321 L330.5,321.9 L329.6,322.4 L328.4,322.4 L327.5,321.9 L327.2,321 L327.5,320.1 L328.4,319.6 L329.6,319.6 L330.5,320.1Z" fill="#bebebe" stroke="#000" stroke-width="1.05" />
<path d="M333,329 L332.7,329.9 L332,330.5 L331,330.5 L330.3,329.9 L330,329 L330.3,328.1 L331,327.5 L332,327.5 L332.7,328.1Z" fill="#bebebe" stroke="#000" stroke-width="1.05" />
<path d="M350.9,315.5 L350.3,316.5 L348.3,317.9 L345.6,319.2 L343.3,319.8 L342.1,319.5 L342.7,318.5 L344.7,317.1 L347.4,315.8 L349.7,315.2Z" fill="#bebebe" stroke="#000" stroke-width="1.05" />
<path d="M363.9,328.6 L363.1,329.4 L361.3,329.6 L359.2,329.2 L357.6,328.4 L357.1,327.4 L357.9,326.6 L359.7,326.4 L361.8,326.8 L363.4,327.6Z" fill="#bebebe" stroke="#000" stroke-width="1.05" />
<path d="M323.5,325 L323.2,325.6 L322.5,326 L321.5,326 L320.8,325.6 L320.5,325 L320.8,324.4 L321.5,324 L322.5,324 L323.2,324.4Z" fill="#bebebe" stroke="#000" stroke-width="1.05" />
<path d="M339.2,318.5 L339,319 L338.4,319.3 L337.6,319.3 L337,319 L336.8,318.5 L337,318 L337.6,317.7 L338.4,317.7 L339,318Z" fill="#bebebe" stroke="#000" stroke-width="1.05" />
<path d="M369.7,293 L369.5,293.7 L368.9,294.1 L368.1,294.1 L367.5,293.7 L367.3,293 L367.5,292.3 L368.1,291.9 L368.9,291.9 L369.5,292.3Z" fill="#bebebe" stroke="#000" stroke-width="1.05" />
<path d="M374.2,300.6 L374.5,302 L374.2,303.1 L373.4,303.4 L372.5,302.7 L371.8,301.4 L371.5,300 L371.8,298.9 L372.6,298.6 L373.5,299.3Z" fill="#bebebe" stroke="#000" stroke-width="1.05" />
<path d="M377.8,306.2 L378.2,307.9 L377.8,309.3 L376.6,309.8 L375.3,309.3 L374.2,307.8 L373.8,306.1 L374.2,304.7 L375.4,304.2 L376.7,304.7Z" fill="#bebebe" stroke="#000" stroke-width="1.05" />
<path d="M377,319 L381,316 L386,315 L390,316 L386,318.5 L381,321 L378,323Z" fill="#bebebe" stroke="#000" stroke-width="1.05" />
<path d="M392.2,330 L391.8,331.1 L390.7,331.7 L389.3,331.7 L388.2,331.1 L387.8,330 L388.2,328.9 L389.3,328.3 L390.7,328.3 L391.8,328.9Z" fill="#bebebe" stroke="#000" stroke-width="1.05" />
<path d="M396.1,335.4 L395.4,335.8 L394.4,335.8 L393.4,335.2 L392.9,334.4 L392.9,333.6 L393.6,333.2 L394.6,333.2 L395.6,333.8 L396.1,334.6Z" fill="#bebebe" stroke="#000" stroke-width="1.05" />
<path d="M406.8,327 L406.5,328.1 L405.6,328.7 L404.4,328.7 L403.5,328.1 L403.2,327 L403.5,325.9 L404.4,325.3 L405.6,325.3 L406.5,325.9Z" fill="#bebebe" stroke="#000" stroke-width="1.05" />
<path d="M401,341 L404,339 L415,333 L417,335 L414,344 L406,353 L402,354 L401,348Z" fill="#bebebe" stroke="#000" stroke-width="1.05" />
<path d="M381,357 L384.5,354 L386.5,356 L386,363 L384.5,368 L386.5,370 L384,373 L381.5,370 L383,365 L382,361Z" fill="#bebebe" stroke="#000" stroke-width="1.05" />
<path d="M378.9,371.4 L378.7,372.2 L377.6,373 L376.1,373.4 L374.7,373.3 L374.1,372.6 L374.3,371.8 L375.4,371 L376.9,370.6 L378.3,370.7Z" fill="#bebebe" stroke="#000" stroke-width="1.05" />
<path d="M276.1,283.8 L275.7,285.1 L274.5,285.9 L273.1,285.9 L271.9,285.1 L271.5,283.8 L271.9,282.5 L273.1,281.7 L274.5,281.7 L275.7,282.5Z" fill="#bebebe" stroke="#000" stroke-width="1.05" />
<path d="M276,275.7 L275.3,276.8 L273.9,277.3 L272.4,277 L271.3,276.1 L271,274.9 L271.7,273.8 L273.1,273.3 L274.6,273.6 L275.7,274.5Z" fill="#bebebe" stroke="#000" stroke-width="1.05" />
<path d="M275.4,299.6 L274.9,300.2 L273.2,301 L271.2,301.5 L269.4,301.7 L268.6,301.4 L269.1,300.8 L270.8,300 L272.8,299.5 L274.6,299.3Z" fill="#bebebe" stroke="#000" stroke-width="1.05" />
<path d="M266,303.5 L265.7,304.1 L265,304.5 L264,304.5 L263.3,304.1 L263,303.5 L263.3,302.9 L264,302.5 L265,302.5 L265.7,302.9Z" fill="#bebebe" stroke="#000" stroke-width="1.05" />
<path d="M402,171.5 L401.4,172.6 L399.7,173.4 L397.6,173.6 L395.8,173.1 L395,172.1 L395.6,171 L397.3,170.2 L399.4,170 L401.2,170.5Z" fill="#bebebe" stroke="#000" stroke-width="1.05" />
<path d="M293.2,393 L293,393.5 L292.4,393.9 L291.6,393.9 L291,393.5 L290.8,393 L291,392.5 L291.6,392.1 L292.4,392.1 L293,392.5Z" fill="#bebebe" stroke="#000" stroke-width="1.05" />
<path d="M330,306 L334,304 L337.5,306 L338,311 L335,315 L331.5,313.5 L329.5,310Z" fill="#ebf5b9" stroke="#000" stroke-width="0.95" />
<path d="M59,29.6 L64,36 L70,42 L77,48 L83,53 L86,58 L87,63 L91,68 L96,73 L99,77 L104,79 L106,84 L110,88 L115,91 L120,93 L122,97" fill="none" stroke="#000" stroke-width="1.0" stroke-linejoin="round" />
<path d="M121,92 L123,86 L122,78 L124,73 L128,68 L130,63 L135,60 L139,62 L140,56 L136,54 L140,52 L144.6,53.4" fill="none" stroke="#000" stroke-width="1.0" stroke-linejoin="round" />
<path d="M155.4,29.5 L156,32.6 L152.3,35 L147.7,34 L145.4,32.6 L147.7,38.8 L151.5,42.6 L153.8,46.5 L150.8,50.3 L146,51 L144.6,53.4" fill="none" stroke="#000" stroke-width="1.0" stroke-linejoin="round" />
<path d="M144.6,53.4 L149,58 L154.6,62.6 L157,66.5 L161.5,68.8 L167,70.3 L169,73.4 L173,75.7 L177.7,78 L178.5,81 L176,83.4 L171.5,85 L168.5,85.7 L170,89.5 L170.8,93.4 L167.7,95.7 L163,96.5 L160.8,94 L160,89.5 L156,94 L152.3,100 L150.8,103 L148.5,107 L150.8,110.8 L147.7,115.4 L148.5,120.8" fill="none" stroke="#000" stroke-width="1.0" stroke-linejoin="round" />
<path d="M170.8,93.4 L174.6,98 L177,101.8 L180.8,104.6 L184.6,107.7 L186,113.8 L187,118.5 L185.4,123 L183.8,127.7 L183.8,132.3 L181.5,135.4 L184.6,140 L183,144.6 L185.4,150.8 L189,155.4 L191.5,159 L197,160.8 L198,165.4 L200.4,170 L198,174.6 L194.2,177.7 L192,181.5 L189,187.4 L188.4,191.8 L182.2,193 L177.9,196 L179,199.9 L177.3,204.8 L174.2,209 L171.7,209.8" fill="none" stroke="#000" stroke-width="1.0" stroke-linejoin="round" />
<path d="M187,118.5 L190.8,117.7 L191.5,113 L197,110 L201.5,107.7 L204.6,107 L206,111.5 L208.5,107.7 L211.5,105.4 L215.4,106 L221.5,103.8 L227.7,103 L233.8,101.5 L237,102" fill="none" stroke="#000" stroke-width="1.0" stroke-linejoin="round" />
<path d="M237,102 L239,97 L244,97 L245,92 L242,88 L242,82 L245,80 L252,78 L256,73 L259,68 L256,64 L250,58 L245,54 L243,48 L240,42 L241,35 L248,30" fill="none" stroke="#000" stroke-width="1.0" stroke-linejoin="round" />
<path d="M258,30 L255,36 L258,41 L266,41 L274,39 L282,42 L292,46 L300,45.5 L308,43 L316,46 L324,45 L332,49 L340,47 L346,42 L352,37 L358,33 L370,30" fill="none" stroke="#000" stroke-width="1.0" stroke-linejoin="round" />
<path d="M388,30 L394,32 L404,34 L408,33 L409,39 L415,42 L422,44 L428,44" fill="none" stroke="#000" stroke-width="1.0" stroke-linejoin="round" />
<path d="M237,102 L241,106 L245.8,111.5 L252,114.6 L255,115.4 L256.5,121.5 L258.8,127 L258,132.3 L257.8,142.3" fill="none" stroke="#000" stroke-width="1.0" stroke-linejoin="round" />
<path d="M197,160.8 L200.4,162.3 L206.5,160.8 L212,159 L217.3,160.8 L221,159 L224,154.6 L228,150.8 L234,150 L242,151.5 L248,150.8 L251,146 L252.7,143 L257.8,142.3" fill="none" stroke="#000" stroke-width="1.0" stroke-linejoin="round" />
<path d="M257.8,142.3 L262.7,143 L265.8,140.8 L272,140 L277.3,140.8 L282.7,138.5 L288.8,137.7 L292.7,134.6 L296.5,133 L301,135.4 L305,133.8 L308,138.5 L312.7,140.8 L318,140.8 L322.7,143 L327.3,145.4 L336,143.8 L340.8,144.6 L345.4,143 L351.5,142.3 L354.6,140.8 L354.6,135.4 L353,130.8 L351.5,128.5 L354.6,127 L359,127.7" fill="none" stroke="#000" stroke-width="1.0" stroke-linejoin="round" />
<path d="M359,127.7 L360.8,123.8 L365.4,123 L368.5,118.5 L374.6,117 L379,114.6 L382.3,112.3 L387.7,111.5 L391.5,114.6 L396,119 L400.8,117 L407,116 L408.5,118.5" fill="none" stroke="#000" stroke-width="1.0" stroke-linejoin="round" />
<path d="M359,127.7 L363.8,128.5 L367,132.3 L367.7,141.5 L363,144.6 L359,147.7 L359,153.8 L360,157.7 L355.4,161.5 L351.5,167" fill="none" stroke="#000" stroke-width="1.0" stroke-linejoin="round" />
<path d="M192,181.5 L195.8,186 L198,192.3 L201,197.7 L205,201.5 L210.4,201.5 L215.8,200.8 L222,201.5 L225.8,200.8 L226.5,197 L230.4,192.3 L232,187.7" fill="none" stroke="#000" stroke-width="1.0" stroke-linejoin="round" />
<path d="M220.4,160.8 L221,165.4 L225,168.5 L226.5,175.4 L231,179 L234.2,184.6 L232,187.7 L235.8,190 L238.8,189 L239.6,193 L244.2,197.7 L248,198.5" fill="none" stroke="#000" stroke-width="1.0" stroke-linejoin="round" />
<path d="M205,201.5 L203.5,207.7 L204.2,213.8 L204.6,216 L209.5,222 L211.4,225.3 L209.5,228.4 L203.3,230.9 L199.6,232" fill="none" stroke="#000" stroke-width="1.0" stroke-linejoin="round" />
<path d="M211.4,225.3 L215.7,226 L219.4,226 L220.7,229.6 L225,230.9 L229,229 L233,225 L237,224" fill="none" stroke="#000" stroke-width="1.0" stroke-linejoin="round" />
<path d="M209.5,228.4 L210.8,233.3 L214.5,238.3 L216.3,242 L219,247 L221,252 L224,258" fill="none" stroke="#000" stroke-width="1.0" stroke-linejoin="round" />
<path d="M277.3,140.8 L279.6,143.8 L280.4,147.7 L285.8,151.5 L291,154.6 L292.7,158.5 L289.6,161.5 L285.8,164.6" fill="none" stroke="#000" stroke-width="1.0" stroke-linejoin="round" />
<path d="M282,140 L280.4,144.6" fill="none" stroke="#000" stroke-width="1.0" stroke-linejoin="round" />
<path d="M224.8,279.2 L222.7,284.8 L223.4,290.3 L227.5,293.8 L224.8,297.2 L220,298" fill="none" stroke="#000" stroke-width="1.0" stroke-linejoin="round" />
<path d="M224.8,279.2 L229,282 L233.8,280 L236.5,277.2 L239.3,273 L240.7,268.9" fill="none" stroke="#000" stroke-width="1.0" stroke-linejoin="round" />
<circle cx="150" cy="202" r="1.0" fill="#000"/>
<circle cx="153.5" cy="200" r="0.7" fill="#000"/>
<circle cx="267" cy="354" r="1.0" fill="#000"/>
<circle cx="266" cy="350.5" r="0.6" fill="#000"/>
<circle cx="344" cy="302" r="0.8" fill="#000"/>
<circle cx="350" cy="310" r="0.8" fill="#000"/>
<circle cx="356" cy="335" r="0.8" fill="#000"/>
<circle cx="340" cy="327" r="0.8" fill="#000"/>
<circle cx="364" cy="312" r="0.8" fill="#000"/>
<circle cx="296" cy="309" r="0.8" fill="#000"/>
<circle cx="365" cy="300" r="0.8" fill="#000"/>
<circle cx="309" cy="300" r="0.7" fill="#000"/>
<circle cx="343" cy="295" r="0.7" fill="#000"/>
<circle cx="358" cy="348" r="0.7" fill="#000"/>
<circle cx="371" cy="350" r="0.7" fill="#000"/>
<circle cx="305" cy="384" r="0.8" fill="#000"/>
<circle cx="326" cy="301" r="0.7" fill="#000"/>
<circle cx="348" cy="324" r="0.7" fill="#000"/>
<circle cx="291" cy="340" r="0.6" fill="#000"/>
<circle cx="283" cy="347" r="0.6" fill="#000"/>
</g>
<rect x="41.4" y="29.3" width="504.6" height="430.2" fill="none" stroke="#000" stroke-width="1.1"/>
<line x1="29" y1="33.2" x2="41" y2="33.2" stroke="#000" stroke-width="1"/>
<text x="23.6" y="37.400000000000006" font-size="11" text-anchor="end">44°N</text>
<line x1="29" y1="115.2" x2="41" y2="115.2" stroke="#000" stroke-width="1"/>
<text x="23.6" y="119.4" font-size="11" text-anchor="end">42°N</text>
<line x1="29" y1="195.2" x2="41" y2="195.2" stroke="#000" stroke-width="1"/>
<text x="23.6" y="199.39999999999998" font-size="11" text-anchor="end">40°N</text>
<line x1="29" y1="273.2" x2="41" y2="273.2" stroke="#000" stroke-width="1"/>
<text x="23.6" y="277.4" font-size="11" text-anchor="end">38°N</text>
<line x1="29" y1="349.2" x2="41" y2="349.2" stroke="#000" stroke-width="1"/>
<text x="23.6" y="353.4" font-size="11" text-anchor="end">36°N</text>
<line x1="29" y1="423.2" x2="41" y2="423.2" stroke="#000" stroke-width="1"/>
<text x="23.6" y="427.4" font-size="11" text-anchor="end">34°N</text>
<line x1="168.4" y1="459.5" x2="168.4" y2="471.8" stroke="#000" stroke-width="1"/>
<text x="168.6" y="487" font-size="10.9" text-anchor="middle">20°E</text>
<line x1="228.8" y1="459.5" x2="228.8" y2="471.8" stroke="#000" stroke-width="1"/>
<text x="229.0" y="487" font-size="10.9" text-anchor="middle">22°E</text>
<line x1="289.1" y1="459.5" x2="289.1" y2="471.8" stroke="#000" stroke-width="1"/>
<text x="289.3" y="487" font-size="10.9" text-anchor="middle">24°E</text>
<line x1="349.4" y1="459.5" x2="349.4" y2="471.8" stroke="#000" stroke-width="1"/>
<text x="349.59999999999997" y="487" font-size="10.9" text-anchor="middle">26°E</text>
<line x1="409.7" y1="459.5" x2="409.7" y2="471.8" stroke="#000" stroke-width="1"/>
<text x="409.9" y="487" font-size="10.9" text-anchor="middle">28°E</text>
<line x1="470" y1="459.5" x2="470" y2="471.8" stroke="#000" stroke-width="1"/>
<text x="470.2" y="487" font-size="10.9" text-anchor="middle">30°E</text>
<line x1="530.3" y1="459.5" x2="530.3" y2="471.8" stroke="#000" stroke-width="1"/>
<text x="530.5" y="487" font-size="10.9" text-anchor="middle">32°E</text>
<line x1="47" y1="460" x2="47" y2="464" stroke="#000" stroke-width="1"/>
<text x="41" y="9.6" font-size="12.1">Total 3-hr acc. precipitation (mm)</text>
<text x="41" y="22.8" font-size="12.1">BOLAM 6 km t+48z</text>
<text x="540.5" y="9.6" font-size="11.97" text-anchor="end">Init. time: Sun 28 Jan 2024 00z</text>
<text x="540.5" y="22.8" font-size="11.97" text-anchor="end">Valid time: Tue 30 Jan 2024 00z</text>
<text x="344" y="513.3" font-size="11.1">National Observatory of Athens, Greece - meteo.gr</text>
<rect x="554" y="29.00" width="15" height="33.45" fill="#2d004b"/>
<rect x="554" y="62.15" width="15" height="33.45" fill="#6b2d5f"/>
<rect x="554" y="95.31" width="15" height="33.45" fill="#0a1496"/>
<rect x="554" y="128.46" width="15" height="33.45" fill="#0a4b8c"/>
<rect x="554" y="161.62" width="15" height="33.45" fill="#0a6eb4"/>
<rect x="554" y="194.77" width="15" height="33.45" fill="#2d8cb4"/>
<rect x="554" y="227.92" width="15" height="33.45" fill="#2d9f8c"/>
<rect x="554" y="261.08" width="15" height="33.45" fill="#52b89b"/>
<rect x="554" y="294.23" width="15" height="33.45" fill="#9beeb4"/>
<rect x="554" y="327.38" width="15" height="33.45" fill="#c8fac8"/>
<rect x="554" y="360.54" width="15" height="33.45" fill="#ebf5b9"/>
<rect x="554" y="393.69" width="15" height="33.45" fill="#ebf5b9"/>
<rect x="554" y="426.85" width="15" height="33.45" fill="#ffffff"/>
<line x1="554" y1="62.15" x2="569" y2="62.15" stroke="#555" stroke-width="0.5"/>
<text x="570.7" y="71.75" font-size="13.2">50</text>
<line x1="554" y1="95.31" x2="569" y2="95.31" stroke="#555" stroke-width="0.5"/>
<text x="570.7" y="104.91" font-size="13.2">30</text>
<line x1="554" y1="128.46" x2="569" y2="128.46" stroke="#555" stroke-width="0.5"/>
<text x="570.7" y="138.06" font-size="13.2">20</text>
<line x1="554" y1="161.62" x2="569" y2="161.62" stroke="#555" stroke-width="0.5"/>
<text x="570.7" y="171.22" font-size="13.2">15</text>
<line x1="554" y1="194.77" x2="569" y2="194.77" stroke="#555" stroke-width="0.5"/>
<text x="570.7" y="204.37" font-size="13.2">10</text>
<line x1="554" y1="227.92" x2="569" y2="227.92" stroke="#555" stroke-width="0.5"/>
<text x="570.7" y="237.52" font-size="13.2">5</text>
<line x1="554" y1="261.08" x2="569" y2="261.08" stroke="#555" stroke-width="0.5"/>
<text x="570.7" y="270.68" font-size="13.2">4</text>
<line x1="554" y1="294.23" x2="569" y2="294.23" stroke="#555" stroke-width="0.5"/>
<text x="570.7" y="303.83" font-size="13.2">3</text>
<line x1="554" y1="327.38" x2="569" y2="327.38" stroke="#555" stroke-width="0.5"/>
<text x="570.7" y="336.98" font-size="13.2">2</text>
<line x1="554" y1="360.54" x2="569" y2="360.54" stroke="#555" stroke-width="0.5"/>
<text x="570.7" y="370.14" font-size="13.2">1</text>
<line x1="554" y1="393.69" x2="569" y2="393.69" stroke="#555" stroke-width="0.5"/>
<text x="570.7" y="403.29" font-size="13.2">0.5</text>
<line x1="554" y1="426.85" x2="569" y2="426.85" stroke="#555" stroke-width="0.5"/>
<text x="570.7" y="436.45" font-size="13.2">0.1</text>
<rect x="554" y="29" width="15" height="431" fill="none" stroke="#555" stroke-width="0.8"/>
<rect x="596" y="29.00" width="12" height="108.05" fill="#9a32cd"/>
<rect x="596" y="136.75" width="12" height="108.05" fill="#ee82ee"/>
<rect x="596" y="244.50" width="12" height="108.05" fill="#ffe1ff"/>
<rect x="596" y="352.25" width="12" height="108.05" fill="#ffffff"/>
<line x1="596" y1="136.75" x2="608" y2="136.75" stroke="#777" stroke-width="0.5"/>
<line x1="596" y1="244.50" x2="608" y2="244.50" stroke="#777" stroke-width="0.5"/>
<line x1="596" y1="352.25" x2="608" y2="352.25" stroke="#777" stroke-width="0.5"/>
<rect x="596" y="29" width="12" height="431" fill="none" stroke="#888" stroke-width="0.8"/>
<text x="610" y="18.2" font-size="10.2">Snow</text>
<text x="608.7" y="90.5" font-size="10">Heavy</text>
<text x="608.9" y="197.6" font-size="10">Moderate</text>
<text x="608.9" y="305.3" font-size="10">Light</text>
<rect x="18" y="462" width="101" height="37" fill="#fbfbfb"/>
<path d="M28.1,471.2 L39.5,471.2 L51,480.8 L62.6,471.2 L74.2,471.2 L74.2,495.6 L61.7,495.6 L61.7,486.8 L54.3,495.6 L47.8,495.6 L40.5,486.8 L40.5,495.6 L28.1,495.6 Z" fill="#0f14c8"/>
<circle cx="28.1" cy="471.2" r="8" fill="#ffc800"/>
<text x="80" y="480" font-size="11.4" letter-spacing="1.1" style="fill:#1a1ed2">Meteo</text>
<text x="80" y="489.8" font-size="7" style="fill:#1a1ed2">Όλα για</text>
<text x="80" y="495.4" font-size="7" style="fill:#1a1ed2">τον καιρό</text>
</svg></body></html>
